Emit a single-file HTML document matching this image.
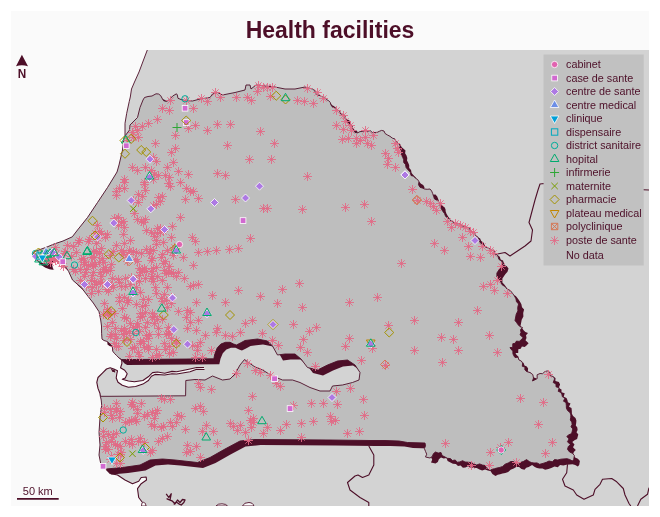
<!DOCTYPE html><html><head><meta charset="utf-8"><title>Health facilities</title>
<style>html,body{margin:0;padding:0;background:#fff}svg{display:block;will-change:transform}text{font-family:"Liberation Sans",sans-serif;fill:#4D0F28}</style></head><body>
<svg width="660" height="517" viewBox="0 0 660 517">
<rect x="0" y="0" width="660" height="517" fill="#fff"/>
<rect x="11" y="11" width="638" height="495" fill="#FAFAFA"/>
<defs><clipPath id="mapclip"><rect x="11" y="50" width="638" height="456"/></clipPath></defs>
<g clip-path="url(#mapclip)">
<path d="M147.3 50 L143.5 60 L139 72 L134.5 82 L131.5 89 L130.3 97 L129.2 101.7 L126.7 113.3 L125 123.3 L125 136 L124 137.5 L122.5 150 L119 165 L117 172 L107.5 187.5 L97.5 202.5 L87.5 217.5 L77.5 230 L72.3 236.8 L63 241 L54 244 L47 247 L40 249.5 L34.5 251.5 L32.5 254.5 L33.3 257.3 L36 259.8 L40 262.3 L44 263.8 L47 264.3 L49.3 263.5 L49.5 261.5 L50.5 260 L53.5 260 L57.5 261.2 L61.5 263 L65 266 L68.6 271.4 L72.5 280 L81.7 288 L88.3 296.7 L93.3 303 L99 311.7 L100.7 320 L101.5 326 L101.6 333.3 L102 339.1 L104 340.5 L106.9 341.4 L109 343 L111.8 345.8 L112.5 348 L112.7 351.1 L114.5 353.5 L116.7 355.6 L119 358 L121.7 359.6 L121.9 363.5 L120.5 367.8 L117.5 370.8 L113.8 369 L110.2 367.8 L106.5 369 L102.9 372.6 L98 377.5 L96.8 382.3 L98 388.4 L99.9 393.2 L100.4 396.3 L100.4 396.3 L101.2 400 L101.7 405 L100 417.5 L99 432.5 L100 445 L99 455 L101 465 L106 469 L110 473.5 L117.5 475 L125 480 L132.5 483.7 L138.7 481.2 L141.2 477.5 L146.2 477 L146.5 480 L141.2 483.7 L137.5 488.7 L138.7 497.5 L142.5 502.5 L146 506 L144 520 L660 520 L660 40 L147.5 40 Z" fill="#D3D3D3"/>
<path d="M147.3 50 L143.5 60 L139 72 L134.5 82 L131.5 89 L130.3 97 L129.2 101.7 L126.7 113.3 L125 123.3 L125 136" fill="none" stroke="#4D0F28" stroke-width="0.9" stroke-linejoin="round"/>
<path d="M106 469 L110 473.5 L117.5 475 L125 480 L132.5 483.7 L138.7 481.2 L141.2 477.5 L146.2 477 L146.5 480 L141.2 483.7 L137.5 488.7 L138.7 497.5 L142.5 502.5 L146 506" fill="none" stroke="#4D0F28" stroke-width="1.1" stroke-linejoin="round"/>
<path d="M497.5 254 L505 252.5 L510 256 L517.5 251 L525 246 L531 241 L532.5 230 L529 222.5 L531 215 L535 200 L538 190 L540 184 L544 183.5 L560 186 L600 188 L649 190" fill="none" stroke="#4D0F28" stroke-width="1.1" stroke-linejoin="round"/>
<path d="M368.8 446 L373.8 455 L373.8 465 L368.8 475 L362.5 477.5 L358 475 L355 476 L347.5 482.5 L350 490 L360 497.5 L368.8 502.5 L368.8 506" fill="none" stroke="#4D0F28" stroke-width="1.1" stroke-linejoin="round"/>
<path d="M567.5 464.3 L566.7 472.7 L562.5 479.3 L565 486 L573.3 490 L576.7 495 L584 499.3 L593.3 495 L595 489.3 L600 484.3 L602.5 479.3 L611.7 478.5 L616.7 481.8 L623.3 488.5 L625 495 L629 503.5 L630.8 506" fill="none" stroke="#4D0F28" stroke-width="1.1" stroke-linejoin="round"/>
<path d="M637.5 506 L640.8 499.3 L647.5 494.3 L649 487.7" fill="none" stroke="#4D0F28" stroke-width="1.1" stroke-linejoin="round"/>
<path d="M242.5 506 Q244 502.3 249 502.5 Q253.5 503 253.8 506 Z" fill="#FAFAFA" stroke="#4D0F28" stroke-width="0.9"/>
<path d="M216 506 Q218 503.5 222 503.8 Q226.5 504 227.5 506 Z" fill="#FAFAFA" stroke="#4D0F28" stroke-width="0.9"/>
<path d="M141.5 506 Q141 502.5 143.5 502.3 Q146 502.5 146 506 Z" fill="#FAFAFA" stroke="#4D0F28" stroke-width="0.8"/>
<path d="M166.2 493.8 L168.8 497.5 L171.2 493.8 L170 500 L167 498.8 L172.5 501.2 L175 503.8 L177.5 500 L180 502.5 L182.5 499.5 L185 500 L183.8 502.5 L181.2 505 L178.8 503.8 L176.2 502 L173.8 504.5" fill="none" stroke="#4D0F28" stroke-width="1.3" stroke-linejoin="round"/>
<path d="M125 136 L129.5 130 L130 125 L137.5 117.5 L140 107.5 L143 100 L144.5 97.5 L148 96.5 L152 96 L156 93.8 L158.5 94 L160.6 95.5 L162.5 99 L163.8 100.8 L166.7 101.4 L169.5 99.5 L172.7 96 L176.5 93.8 L177.3 95 L178 98.3 L181 99.5 L185 100.5 L192.5 101 L200 99 L210 97.5 L212.5 94 L217.5 92.5 L222.5 95 L235 92.5 L245 90 L246 85 L250 85 L251 89 L256 85 L265 86 L275 87 L285 89 L295 89 L305 87 L312.5 89 L314.6 90.6 L315.8 93.1 L317.5 95 L320.1 95.6 L322.4 96.9 L325 97.5 L326.3 99.5 L328.7 100.7 L330.3 102.5 L331 105 L332.7 107.3 L335.7 107.9 L337.5 110 L339.7 111 L340.6 113.9 L343.2 114.4 L345 116 L345.1 118.4 L346.7 120.3 L347.5 122.5 L349 124.4 L351.4 125.3 L352.5 127.5 L353.5 130.1 L355 132.5 L357.7 132.8 L360 131.6 L362.6 131.5 L365 130.5 L367.4 131.4 L370.2 130.6 L372.4 132.6 L375 132.5 L377.3 132.3 L379.4 131.3 L381.6 130.4 L384 131 L385.1 133.5 L387.5 135 L390 136.3 L392.3 138.1 L395 139 L396 141.5 L398 143.3 L400 145 L399.6 147.7 L401 150 L401.8 152.4 L401.5 155 L402.7 157.3 L403.7 159.7 L403.7 162.4 L405.5 164.5 L406.1 167.6 L408.2 170 L410.4 172.3 L411 175.5 L413.7 176.2 L415.5 178.2 L417.7 179.6 L419 181.8 L418.5 184.7 L420 187.3 L422.3 188 L424.5 189 L427.2 189.3 L430 189 L431.7 191.1 L432.7 193.6 L433.6 196.3 L434.5 199 L436.9 200.2 L439 201.8 L440 203.8 L440.2 206.1 L441 208.2 L442.6 211 L444.5 213.6 L445.7 216.5 L448.2 218.2 L450.2 220.3 L452.7 221.8 L454.9 223.3 L457.4 223.8 L460 223.6 L461.9 225.8 L464.7 226.4 L467.3 227.3 L469.5 228.1 L470.4 230.6 L472.1 232.2 L474.5 232.7 L475.7 235.6 L478.2 237.3 L479 239.5 L479.6 241.7 L481 243.6 L483.6 244.4 L485.1 246.9 L487.7 247.8 L490 249 L492.2 250.1 L494.3 251.3 L495.1 254.1 L497.5 255 L499 259.5 L501.3 260.8 L503 262.9 L502 266.3 L499.6 269 L496.9 273 L496.9 277 L498.8 278.9 L500.3 281 L502.3 285 L505.1 286.5 L507 289 L510.3 290.5 L512.5 293.3 L514.4 295.9 L515.9 298.7 L516.5 301.7 L518.6 304 L517.7 307.4 L517.9 310.9 L516.2 314.3 L515.5 318 L515 320.5 L516.6 322.6 L518.1 324.7 L519.9 326.6 L522.5 327.5 L520.5 329.8 L521 332.4 L520 334.8 L523.1 337.7 L521 340 L519.2 341.4 L516.4 341.1 L515.2 343.3 L512.8 343.7 L512.7 347.5 L510 347.5 L511.1 349.4 L512.9 351.1 L512.9 353.6 L513.7 355.6 L515 357.5 L518 357.2 L519 360 L521.3 361 L522.6 363 L522.3 366.3 L525 367 L524.8 369.6 L526.5 371.5 L530 372.5 L532.8 374.6 L533.5 378 L532.5 381 L534.5 380 L537.2 378.6 L537.1 374.8 L540 373.5 L542.5 373.7 L544.9 371.6 L547.3 370.9 L550 372.5 L549.9 375.5 L553.4 376.6 L554.6 378.9 L553.2 382.5 L556 384 L556 386.8 L559.2 387.8 L558.2 391.3 L561 392.5 L561.9 394.6 L562.4 396.8 L565 398 L563.5 401.2 L566 402.5 L566.3 405.3 L566.4 408.2 L567.6 410.6 L570 412.5 L570.9 415 L570.7 417.5 L570.3 420 L571.8 422.1 L572.1 424.4 L571 426.8 L572.8 428.9 L572.2 431.3 L571.6 433.6 L569 434.7 L566.8 436.4 L569 438.9 L567.5 441.8 L570.3 444.6 L568.3 446.6 L567.5 449.3 L569.6 452 L572.4 453.3 L574.4 455.5 L573.7 459.6 L572.3 461 L569.7 459.5 L567 458.7 L564 458.9 L560.9 459.2 L557.8 460 L554.6 459.6 L552.3 461.8 L549 461 L546.4 462.3 L543 463.4 L539.6 464.3 L537 462.9 L534 463 L531.5 462.6 L529.3 461.6 L526.6 459.6 L523.2 461.6 L520.7 462.3 L519 464.3 L516 463.5 L513.6 461.6 L510.7 461.5 L508.2 463 L505.1 464.2 L502.7 466.4 L499.9 467.4 L497 468 L494.6 468.7 L492.2 469.2 L490 470.5 L486.9 468.6 L485 465.5 L482.3 465 L479.6 463.9 L476.7 465 L474 464 L471.2 462.5 L468.1 462.2 L465 462 L462.6 460.7 L459.9 461.9 L457.4 462.2 L455.1 460 L452.5 460.5 L450.4 458.6 L447.4 458.3 L445 457 L442.1 455.5 L441 452.5 L438.2 453.1 L435.5 452 L433.4 453.7 L432.3 456.4 L430 458 L425.5 457 L426.7 454.2 L425.5 451.4 L424.4 448.6 L425.5 445.8 L425 443 L407.5 442.5 L399 441 L385 440.5 L370 440.5 L330 440 L255 439.5 L240 441 L225 449 L210 457.5 L197.5 462.5 L175 460 L162.5 459 L150 460 L140 465 L122.5 467.5 L106 469 L101 465 L99 455 L100 445 L99 432.5 L100 417.5 L101.7 405 L101.2 400 L100.4 396.3 L110 396.3 L185.6 395.8 L185.8 380.5 L195 379.5 L205 380 L212.5 376 L222.5 380 L230 379 L235 374 L240 365 L244.5 359.5 L250 363.5 L255 367 L262.5 370 L272.5 376 L282.5 380 L292.5 380 L300 382.5 L310 387.5 L320 391 L330 391 L332.5 386 L342.5 385 L352.5 382.5 L359 380 L360 372.5 L355 365 L347.5 360 L337.5 361 L327.5 365 L317.5 370 L307.5 367.5 L301 359 L295 354 L285 354 L277.5 355 L272.5 346 L267.5 341 L257.5 339 L245 340.5 L240 343.2 L236.4 345 L233.6 344 L230 342.3 L225.5 342.3 L220.9 344 L217.3 347.7 L215 353.2 L213.8 358.8 L121.7 359.6 L119 358 L116.7 355.6 L114.5 353.5 L112.7 351.1 L112.5 348 L111.8 345.8 L109 343 L106.9 341.4 L104 340.5 L102 339.1 L101.6 333.3 L101.5 326 L100.7 320 L99 311.7 L93.3 303 L88.3 296.7 L81.7 288 L72.5 280 L68.6 271.4 L65 266 L61.5 263 L57.5 261.2 L53.5 260 L50.5 260 L49.5 261.5 L49.3 263.5 L47 264.3 L44 263.8 L40 262.3 L36 259.8 L33.3 257.3 L32.5 254.5 L34.5 251.5 L40 249.5 L47 247 L54 244 L63 241 L72.3 236.8 L77.5 230 L87.5 217.5 L97.5 202.5 L107.5 187.5 L117 172 L119 165 L122.5 150 L124 137.5 Z" fill="#4D0F28" transform="translate(5.5,5.5)"/>
<path d="M51.5 262.5 L53 268.5 L58 272 L68 274 L64 264 L57 260.5 Z" fill="#FAFAFA"/>
<path d="M125 136 L129.5 130 L130 125 L137.5 117.5 L140 107.5 L143 100 L144.5 97.5 L148 96.5 L152 96 L156 93.8 L158.5 94 L160.6 95.5 L162.5 99 L163.8 100.8 L166.7 101.4 L169.5 99.5 L172.7 96 L176.5 93.8 L177.3 95 L178 98.3 L181 99.5 L185 100.5 L192.5 101 L200 99 L210 97.5 L212.5 94 L217.5 92.5 L222.5 95 L235 92.5 L245 90 L246 85 L250 85 L251 89 L256 85 L265 86 L275 87 L285 89 L295 89 L305 87 L312.5 89 L314.6 90.6 L315.8 93.1 L317.5 95 L320.1 95.6 L322.4 96.9 L325 97.5 L326.3 99.5 L328.7 100.7 L330.3 102.5 L331 105 L332.7 107.3 L335.7 107.9 L337.5 110 L339.7 111 L340.6 113.9 L343.2 114.4 L345 116 L345.1 118.4 L346.7 120.3 L347.5 122.5 L349 124.4 L351.4 125.3 L352.5 127.5 L353.5 130.1 L355 132.5 L357.7 132.8 L360 131.6 L362.6 131.5 L365 130.5 L367.4 131.4 L370.2 130.6 L372.4 132.6 L375 132.5 L377.3 132.3 L379.4 131.3 L381.6 130.4 L384 131 L385.1 133.5 L387.5 135 L390 136.3 L392.3 138.1 L395 139 L396 141.5 L398 143.3 L400 145 L399.6 147.7 L401 150 L401.8 152.4 L401.5 155 L402.7 157.3 L403.7 159.7 L403.7 162.4 L405.5 164.5 L406.1 167.6 L408.2 170 L410.4 172.3 L411 175.5 L413.7 176.2 L415.5 178.2 L417.7 179.6 L419 181.8 L418.5 184.7 L420 187.3 L422.3 188 L424.5 189 L427.2 189.3 L430 189 L431.7 191.1 L432.7 193.6 L433.6 196.3 L434.5 199 L436.9 200.2 L439 201.8 L440 203.8 L440.2 206.1 L441 208.2 L442.6 211 L444.5 213.6 L445.7 216.5 L448.2 218.2 L450.2 220.3 L452.7 221.8 L454.9 223.3 L457.4 223.8 L460 223.6 L461.9 225.8 L464.7 226.4 L467.3 227.3 L469.5 228.1 L470.4 230.6 L472.1 232.2 L474.5 232.7 L475.7 235.6 L478.2 237.3 L479 239.5 L479.6 241.7 L481 243.6 L483.6 244.4 L485.1 246.9 L487.7 247.8 L490 249 L492.2 250.1 L494.3 251.3 L495.1 254.1 L497.5 255 L499 259.5 L501.3 260.8 L503 262.9 L502 266.3 L499.6 269 L496.9 273 L496.9 277 L498.8 278.9 L500.3 281 L502.3 285 L505.1 286.5 L507 289 L510.3 290.5 L512.5 293.3 L514.4 295.9 L515.9 298.7 L516.5 301.7 L518.6 304 L517.7 307.4 L517.9 310.9 L516.2 314.3 L515.5 318 L515 320.5 L516.6 322.6 L518.1 324.7 L519.9 326.6 L522.5 327.5 L520.5 329.8 L521 332.4 L520 334.8 L523.1 337.7 L521 340 L519.2 341.4 L516.4 341.1 L515.2 343.3 L512.8 343.7 L512.7 347.5 L510 347.5 L511.1 349.4 L512.9 351.1 L512.9 353.6 L513.7 355.6 L515 357.5 L518 357.2 L519 360 L521.3 361 L522.6 363 L522.3 366.3 L525 367 L524.8 369.6 L526.5 371.5 L530 372.5 L532.8 374.6 L533.5 378 L532.5 381 L534.5 380 L537.2 378.6 L537.1 374.8 L540 373.5 L542.5 373.7 L544.9 371.6 L547.3 370.9 L550 372.5 L549.9 375.5 L553.4 376.6 L554.6 378.9 L553.2 382.5 L556 384 L556 386.8 L559.2 387.8 L558.2 391.3 L561 392.5 L561.9 394.6 L562.4 396.8 L565 398 L563.5 401.2 L566 402.5 L566.3 405.3 L566.4 408.2 L567.6 410.6 L570 412.5 L570.9 415 L570.7 417.5 L570.3 420 L571.8 422.1 L572.1 424.4 L571 426.8 L572.8 428.9 L572.2 431.3 L571.6 433.6 L569 434.7 L566.8 436.4 L569 438.9 L567.5 441.8 L570.3 444.6 L568.3 446.6 L567.5 449.3 L569.6 452 L572.4 453.3 L574.4 455.5 L573.7 459.6 L572.3 461 L569.7 459.5 L567 458.7 L564 458.9 L560.9 459.2 L557.8 460 L554.6 459.6 L552.3 461.8 L549 461 L546.4 462.3 L543 463.4 L539.6 464.3 L537 462.9 L534 463 L531.5 462.6 L529.3 461.6 L526.6 459.6 L523.2 461.6 L520.7 462.3 L519 464.3 L516 463.5 L513.6 461.6 L510.7 461.5 L508.2 463 L505.1 464.2 L502.7 466.4 L499.9 467.4 L497 468 L494.6 468.7 L492.2 469.2 L490 470.5 L486.9 468.6 L485 465.5 L482.3 465 L479.6 463.9 L476.7 465 L474 464 L471.2 462.5 L468.1 462.2 L465 462 L462.6 460.7 L459.9 461.9 L457.4 462.2 L455.1 460 L452.5 460.5 L450.4 458.6 L447.4 458.3 L445 457 L442.1 455.5 L441 452.5 L438.2 453.1 L435.5 452 L433.4 453.7 L432.3 456.4 L430 458 L425.5 457 L426.7 454.2 L425.5 451.4 L424.4 448.6 L425.5 445.8 L425 443 L407.5 442.5 L399 441 L385 440.5 L370 440.5 L330 440 L255 439.5 L240 441 L225 449 L210 457.5 L197.5 462.5 L175 460 L162.5 459 L150 460 L140 465 L122.5 467.5 L106 469 L101 465 L99 455 L100 445 L99 432.5 L100 417.5 L101.7 405 L101.2 400 L100.4 396.3 L110 396.3 L185.6 395.8 L185.8 380.5 L195 379.5 L205 380 L212.5 376 L222.5 380 L230 379 L235 374 L240 365 L244.5 359.5 L250 363.5 L255 367 L262.5 370 L272.5 376 L282.5 380 L292.5 380 L300 382.5 L310 387.5 L320 391 L330 391 L332.5 386 L342.5 385 L352.5 382.5 L359 380 L360 372.5 L355 365 L347.5 360 L337.5 361 L327.5 365 L317.5 370 L307.5 367.5 L301 359 L295 354 L285 354 L277.5 355 L272.5 346 L267.5 341 L257.5 339 L245 340.5 L240 343.2 L236.4 345 L233.6 344 L230 342.3 L225.5 342.3 L220.9 344 L217.3 347.7 L215 353.2 L213.8 358.8 L121.7 359.6 L119 358 L116.7 355.6 L114.5 353.5 L112.7 351.1 L112.5 348 L111.8 345.8 L109 343 L106.9 341.4 L104 340.5 L102 339.1 L101.6 333.3 L101.5 326 L100.7 320 L99 311.7 L93.3 303 L88.3 296.7 L81.7 288 L72.5 280 L68.6 271.4 L65 266 L61.5 263 L57.5 261.2 L53.5 260 L50.5 260 L49.5 261.5 L49.3 263.5 L47 264.3 L44 263.8 L40 262.3 L36 259.8 L33.3 257.3 L32.5 254.5 L34.5 251.5 L40 249.5 L47 247 L54 244 L63 241 L72.3 236.8 L77.5 230 L87.5 217.5 L97.5 202.5 L107.5 187.5 L117 172 L119 165 L122.5 150 L124 137.5 Z" fill="#BEBEBE" stroke="#4D0F28" stroke-width="0.9" stroke-linejoin="round"/>
<path d="M120.5 367.8 L124.7 370.2 L127.2 373.8 L125.3 378 L122.3 379.3 L128.4 381 L134.4 381.7 L142.9 380.5 L149 376.2 L152.6 372.6 L157.5 372 L164.7 373.2 L172 371.4 L176.7 371.7 L190 369 L196.7 367.5 L204 367.5 L204.5 369.5 L196.7 369.3 L190 371.7 L176.7 374 L172 373.8 L164.7 375 L155 374.4 L151.4 376.2 L148.4 380.5 L142.9 384.1 L135.6 386.5 L128.4 387.2 L122.3 385.3 L118 382.3 L116.2 378 L116.8 373.8 L117.5 370.8 L116 367.5 L119.5 364.5 Z" fill="#FAFAFA" stroke="none"/>
<path d="M121.7 359.6 L121.9 363.5 L120.5 367.8 L124.7 370.2 L127.2 373.8 L125.3 378 L122.3 379.3 L128.4 381 L134.4 381.7 L142.9 380.5 L149 376.2 L152.6 372.6 L157.5 372 L164.7 373.2 L172 371.4 L176.7 371.7 L190 369 L196.7 367.5 L204 367.5" fill="none" stroke="#4D0F28" stroke-width="1.1" stroke-linejoin="round"/>
<path d="M204.5 369.5 L196.7 369.3 L190 371.7 L176.7 374 L172 373.8 L164.7 375 L155 374.4 L151.4 376.2 L148.4 380.5 L142.9 384.1 L135.6 386.5 L128.4 387.2 L122.3 385.3 L118 382.3 L116.2 378 L116.8 373.8 L117.5 370.8 L113.8 369 L110.2 367.8 L106.5 369 L102.9 372.6 L98 377.5 L96.8 382.3 L98 388.4 L99.9 393.2 L100.4 396.3" fill="none" stroke="#4D0F28" stroke-width="1.1" stroke-linejoin="round"/>
<path d="M111.5 368.8 l1.2 2.2 l1.3 -1 l0.8 2.4" fill="none" stroke="#4D0F28" stroke-width="1.2"/>
<path d="M166 100.5h9M170.5 96v9M167.3 97.3l6.4 6.4M167.3 103.7l6.4 -6.4M182 100.5h9M186.5 96v9M183.3 97.3l6.4 6.4M183.3 103.7l6.4 -6.4M197 98.5h9M201.5 94v9M198.3 95.3l6.4 6.4M198.3 101.7l6.4 -6.4M203 101.5h9M207.5 97v9M204.3 98.3l6.4 6.4M204.3 104.7l6.4 -6.4M211 92.5h9M215.5 88v9M212.3 89.3l6.4 6.4M212.3 95.7l6.4 -6.4M216 97.5h9M220.5 93v9M217.3 94.3l6.4 6.4M217.3 100.7l6.4 -6.4M232 97.5h9M236.5 93v9M233.3 94.3l6.4 6.4M233.3 100.7l6.4 -6.4M243 97.5h9M247.5 93v9M244.3 94.3l6.4 6.4M244.3 100.7l6.4 -6.4M247 100.5h9M251.5 96v9M248.3 97.3l6.4 6.4M248.3 103.7l6.4 -6.4M253 91.5h9M257.5 87v9M254.3 88.3l6.4 6.4M254.3 94.7l6.4 -6.4M254 85.5h9M258.5 81v9M255.3 82.3l6.4 6.4M255.3 88.7l6.4 -6.4M259 87.5h9M263.5 83v9M260.3 84.3l6.4 6.4M260.3 90.7l6.4 -6.4M158 108.5h9M162.5 104v9M159.3 105.3l6.4 6.4M159.3 111.7l6.4 -6.4M165 110.5h9M169.5 106v9M166.3 107.3l6.4 6.4M166.3 113.7l6.4 -6.4M189 108.5h9M193.5 104v9M190.3 105.3l6.4 6.4M190.3 111.7l6.4 -6.4M153 119.5h9M157.5 115v9M154.3 116.3l6.4 6.4M154.3 122.7l6.4 -6.4M144 123.5h9M148.5 119v9M145.3 120.3l6.4 6.4M145.3 126.7l6.4 -6.4M138 126.5h9M142.5 122v9M139.3 123.3l6.4 6.4M139.3 129.7l6.4 -6.4M131 126.5h9M135.5 122v9M132.3 123.3l6.4 6.4M132.3 129.7l6.4 -6.4M133 130.5h9M137.5 126v9M134.3 127.3l6.4 6.4M134.3 133.7l6.4 -6.4M128 132.5h9M132.5 128v9M129.3 129.3l6.4 6.4M129.3 135.7l6.4 -6.4M134 137.5h9M138.5 133v9M135.3 134.3l6.4 6.4M135.3 140.7l6.4 -6.4M171 135.5h9M175.5 131v9M172.3 132.3l6.4 6.4M172.3 138.7l6.4 -6.4M184 128.5h9M188.5 124v9M185.3 125.3l6.4 6.4M185.3 131.7l6.4 -6.4M191 125.5h9M195.5 121v9M192.3 122.3l6.4 6.4M192.3 128.7l6.4 -6.4M203 130.5h9M207.5 126v9M204.3 127.3l6.4 6.4M204.3 133.7l6.4 -6.4M213 124.5h9M217.5 120v9M214.3 121.3l6.4 6.4M214.3 127.7l6.4 -6.4M226 124.5h9M230.5 120v9M227.3 121.3l6.4 6.4M227.3 127.7l6.4 -6.4M256 131.5h9M260.5 127v9M257.3 128.3l6.4 6.4M257.3 134.7l6.4 -6.4M151 143.5h9M155.5 139v9M152.3 140.3l6.4 6.4M152.3 146.7l6.4 -6.4M171 148.5h9M175.5 144v9M172.3 145.3l6.4 6.4M172.3 151.7l6.4 -6.4M167 152.5h9M171.5 148v9M168.3 149.3l6.4 6.4M168.3 155.7l6.4 -6.4M223 145.5h9M227.5 141v9M224.3 142.3l6.4 6.4M224.3 148.7l6.4 -6.4M245 159.5h9M249.5 155v9M246.3 156.3l6.4 6.4M246.3 162.7l6.4 -6.4M149 157.5h9M153.5 153v9M150.3 154.3l6.4 6.4M150.3 160.7l6.4 -6.4M152 161.5h9M156.5 157v9M153.3 158.3l6.4 6.4M153.3 164.7l6.4 -6.4M128 167.5h9M132.5 163v9M129.3 164.3l6.4 6.4M129.3 170.7l6.4 -6.4M133 170.5h9M137.5 166v9M134.3 167.3l6.4 6.4M134.3 173.7l6.4 -6.4M141 167.5h9M145.5 163v9M142.3 164.3l6.4 6.4M142.3 170.7l6.4 -6.4M147 170.5h9M151.5 166v9M148.3 167.3l6.4 6.4M148.3 173.7l6.4 -6.4M163 167.5h9M167.5 163v9M164.3 164.3l6.4 6.4M164.3 170.7l6.4 -6.4M169 162.5h9M173.5 158v9M170.3 159.3l6.4 6.4M170.3 165.7l6.4 -6.4M174 171.5h9M178.5 167v9M175.3 168.3l6.4 6.4M175.3 174.7l6.4 -6.4M184 174.5h9M188.5 170v9M185.3 171.3l6.4 6.4M185.3 177.7l6.4 -6.4M161 175.5h9M165.5 171v9M162.3 172.3l6.4 6.4M162.3 178.7l6.4 -6.4M213 173.5h9M217.5 169v9M214.3 170.3l6.4 6.4M214.3 176.7l6.4 -6.4M221 175.5h9M225.5 171v9M222.3 172.3l6.4 6.4M222.3 178.7l6.4 -6.4M123 140.5h9M127.5 136v9M124.3 137.3l6.4 6.4M124.3 143.7l6.4 -6.4M129 137.5h9M133.5 133v9M130.3 134.3l6.4 6.4M130.3 140.7l6.4 -6.4M263 87.5h9M267.5 83v9M264.3 84.3l6.4 6.4M264.3 90.7l6.4 -6.4M268 87.5h9M272.5 83v9M269.3 84.3l6.4 6.4M269.3 90.7l6.4 -6.4M266 96.5h9M270.5 92v9M267.3 93.3l6.4 6.4M267.3 99.7l6.4 -6.4M303 88.5h9M307.5 84v9M304.3 85.3l6.4 6.4M304.3 91.7l6.4 -6.4M293 100.5h9M297.5 96v9M294.3 97.3l6.4 6.4M294.3 103.7l6.4 -6.4M300 101.5h9M304.5 97v9M301.3 98.3l6.4 6.4M301.3 104.7l6.4 -6.4M309 103.5h9M313.5 99v9M310.3 100.3l6.4 6.4M310.3 106.7l6.4 -6.4M313 92.5h9M317.5 88v9M314.3 89.3l6.4 6.4M314.3 95.7l6.4 -6.4M319 98.5h9M323.5 94v9M320.3 95.3l6.4 6.4M320.3 101.7l6.4 -6.4M332 110.5h9M336.5 106v9M333.3 107.3l6.4 6.4M333.3 113.7l6.4 -6.4M339 115.5h9M343.5 111v9M340.3 112.3l6.4 6.4M340.3 118.7l6.4 -6.4" fill="none" stroke="#E16A86" stroke-width="0.9"/>
<path d="M341 121.5h9M345.5 117v9M342.3 118.3l6.4 6.4M342.3 124.7l6.4 -6.4M332 125.5h9M336.5 121v9M333.3 122.3l6.4 6.4M333.3 128.7l6.4 -6.4M339 129.5h9M343.5 125v9M340.3 126.3l6.4 6.4M340.3 132.7l6.4 -6.4M347 130.5h9M351.5 126v9M348.3 127.3l6.4 6.4M348.3 133.7l6.4 -6.4M346 125.5h9M350.5 121v9M347.3 122.3l6.4 6.4M347.3 128.7l6.4 -6.4M361 130.5h9M365.5 126v9M362.3 127.3l6.4 6.4M362.3 133.7l6.4 -6.4M369 135.5h9M373.5 131v9M370.3 132.3l6.4 6.4M370.3 138.7l6.4 -6.4M338 139.5h9M342.5 135v9M339.3 136.3l6.4 6.4M339.3 142.7l6.4 -6.4M344 138.5h9M348.5 134v9M345.3 135.3l6.4 6.4M345.3 141.7l6.4 -6.4M352 138.5h9M356.5 134v9M353.3 135.3l6.4 6.4M353.3 141.7l6.4 -6.4M352 143.5h9M356.5 139v9M353.3 140.3l6.4 6.4M353.3 146.7l6.4 -6.4M356 140.5h9M360.5 136v9M357.3 137.3l6.4 6.4M357.3 143.7l6.4 -6.4M363 143.5h9M367.5 139v9M364.3 140.3l6.4 6.4M364.3 146.7l6.4 -6.4M367 145.5h9M371.5 141v9M368.3 142.3l6.4 6.4M368.3 148.7l6.4 -6.4M361 137.5h9M365.5 133v9M362.3 134.3l6.4 6.4M362.3 140.7l6.4 -6.4M270 143.5h9M274.5 139v9M271.3 140.3l6.4 6.4M271.3 146.7l6.4 -6.4M267 159.5h9M271.5 155v9M268.3 156.3l6.4 6.4M268.3 162.7l6.4 -6.4M303 176.5h9M307.5 172v9M304.3 173.3l6.4 6.4M304.3 179.7l6.4 -6.4M381 153.5h9M385.5 149v9M382.3 150.3l6.4 6.4M382.3 156.7l6.4 -6.4M384 158.5h9M388.5 154v9M385.3 155.3l6.4 6.4M385.3 161.7l6.4 -6.4M383 164.5h9M387.5 160v9M384.3 161.3l6.4 6.4M384.3 167.7l6.4 -6.4M391 167.5h9M395.5 163v9M392.3 164.3l6.4 6.4M392.3 170.7l6.4 -6.4M391 143.5h9M395.5 139v9M392.3 140.3l6.4 6.4M392.3 146.7l6.4 -6.4M393 148.5h9M397.5 144v9M394.3 145.3l6.4 6.4M394.3 151.7l6.4 -6.4M394 152.5h9M398.5 148v9M395.3 149.3l6.4 6.4M395.3 155.7l6.4 -6.4M408 189.5h9M412.5 185v9M409.3 186.3l6.4 6.4M409.3 192.7l6.4 -6.4M422 201.5h9M426.5 197v9M423.3 198.3l6.4 6.4M423.3 204.7l6.4 -6.4M426 203.5h9M430.5 199v9M427.3 200.3l6.4 6.4M427.3 206.7l6.4 -6.4M429 206.5h9M433.5 202v9M430.3 203.3l6.4 6.4M430.3 209.7l6.4 -6.4M432 210.5h9M436.5 206v9M433.3 207.3l6.4 6.4M433.3 213.7l6.4 -6.4M436 203.5h9M440.5 199v9M437.3 200.3l6.4 6.4M437.3 206.7l6.4 -6.4M443 221.5h9M447.5 217v9M444.3 218.3l6.4 6.4M444.3 224.7l6.4 -6.4M447 227.5h9M451.5 223v9M448.3 224.3l6.4 6.4M448.3 230.7l6.4 -6.4M451 223.5h9M455.5 219v9M452.3 220.3l6.4 6.4M452.3 226.7l6.4 -6.4M456 225.5h9M460.5 221v9M457.3 222.3l6.4 6.4M457.3 228.7l6.4 -6.4M461 227.5h9M465.5 223v9M462.3 224.3l6.4 6.4M462.3 230.7l6.4 -6.4M466 231.5h9M470.5 227v9M467.3 228.3l6.4 6.4M467.3 234.7l6.4 -6.4M469 232.5h9M473.5 228v9M470.3 229.3l6.4 6.4M470.3 235.7l6.4 -6.4M458 237.5h9M462.5 233v9M459.3 234.3l6.4 6.4M459.3 240.7l6.4 -6.4M464 246.5h9M468.5 242v9M465.3 243.3l6.4 6.4M465.3 249.7l6.4 -6.4M430 243.5h9M434.5 239v9M431.3 240.3l6.4 6.4M431.3 246.7l6.4 -6.4M440 250.5h9M444.5 246v9M441.3 247.3l6.4 6.4M441.3 253.7l6.4 -6.4M466 256.5h9M470.5 252v9M467.3 253.3l6.4 6.4M467.3 259.7l6.4 -6.4M476 257.5h9M480.5 253v9M477.3 254.3l6.4 6.4M477.3 260.7l6.4 -6.4M397 263.5h9M401.5 259v9M398.3 260.3l6.4 6.4M398.3 266.7l6.4 -6.4M478 246.5h9M482.5 242v9M479.3 243.3l6.4 6.4M479.3 249.7l6.4 -6.4M486 250.5h9M490.5 246v9M487.3 247.3l6.4 6.4M487.3 253.7l6.4 -6.4M489 253.5h9M493.5 249v9M490.3 250.3l6.4 6.4M490.3 256.7l6.4 -6.4M497 266.5h9M501.5 262v9M498.3 263.3l6.4 6.4M498.3 269.7l6.4 -6.4M493 280.5h9M497.5 276v9M494.3 277.3l6.4 6.4M494.3 283.7l6.4 -6.4M479 286.5h9M483.5 282v9M480.3 283.3l6.4 6.4M480.3 289.7l6.4 -6.4M486 284.5h9M490.5 280v9M487.3 281.3l6.4 6.4M487.3 287.7l6.4 -6.4M490 290.5h9M494.5 286v9M491.3 287.3l6.4 6.4M491.3 293.7l6.4 -6.4M503 293.5h9M507.5 289v9M504.3 290.3l6.4 6.4M504.3 296.7l6.4 -6.4M473 310.5h9M477.5 306v9M474.3 307.3l6.4 6.4M474.3 313.7l6.4 -6.4M454 322.5h9M458.5 318v9M455.3 319.3l6.4 6.4M455.3 325.7l6.4 -6.4M485 335.5h9M489.5 331v9M486.3 332.3l6.4 6.4M486.3 338.7l6.4 -6.4M437 337.5h9M441.5 333v9M438.3 334.3l6.4 6.4M438.3 340.7l6.4 -6.4M449 339.5h9M453.5 335v9M450.3 336.3l6.4 6.4M450.3 342.7l6.4 -6.4M454 350.5h9M458.5 346v9M455.3 347.3l6.4 6.4M455.3 353.7l6.4 -6.4" fill="none" stroke="#E16A86" stroke-width="0.9"/>
<path d="M493 352.5h9M497.5 348v9M494.3 349.3l6.4 6.4M494.3 355.7l6.4 -6.4M438 362.5h9M442.5 358v9M439.3 359.3l6.4 6.4M439.3 365.7l6.4 -6.4M544 374.5h9M548.5 370v9M545.3 371.3l6.4 6.4M545.3 377.7l6.4 -6.4M516 398.5h9M520.5 394v9M517.3 395.3l6.4 6.4M517.3 401.7l6.4 -6.4M539 402.5h9M543.5 398v9M540.3 399.3l6.4 6.4M540.3 405.7l6.4 -6.4M534 424.5h9M538.5 420v9M535.3 421.3l6.4 6.4M535.3 427.7l6.4 -6.4M548 442.5h9M552.5 438v9M549.3 439.3l6.4 6.4M549.3 445.7l6.4 -6.4M504 442.5h9M508.5 438v9M505.3 439.3l6.4 6.4M505.3 445.7l6.4 -6.4M541 453.5h9M545.5 449v9M542.3 450.3l6.4 6.4M542.3 456.7l6.4 -6.4M486 452.5h9M490.5 448v9M487.3 449.3l6.4 6.4M487.3 455.7l6.4 -6.4M496 447.5h9M500.5 443v9M497.3 444.3l6.4 6.4M497.3 450.7l6.4 -6.4M512 462.5h9M516.5 458v9M513.3 459.3l6.4 6.4M513.3 465.7l6.4 -6.4M485 465.5h9M489.5 461v9M486.3 462.3l6.4 6.4M486.3 468.7l6.4 -6.4M467 465.5h9M471.5 461v9M468.3 462.3l6.4 6.4M468.3 468.7l6.4 -6.4M441 443.5h9M445.5 439v9M442.3 440.3l6.4 6.4M442.3 446.7l6.4 -6.4M263 208.5h9M267.5 204v9M264.3 205.3l6.4 6.4M264.3 211.7l6.4 -6.4M298 209.5h9M302.5 205v9M299.3 206.3l6.4 6.4M299.3 212.7l6.4 -6.4M341 207.5h9M345.5 203v9M342.3 204.3l6.4 6.4M342.3 210.7l6.4 -6.4M360 204.5h9M364.5 200v9M361.3 201.3l6.4 6.4M361.3 207.7l6.4 -6.4M367 221.5h9M371.5 217v9M368.3 218.3l6.4 6.4M368.3 224.7l6.4 -6.4M295 283.5h9M299.5 279v9M296.3 280.3l6.4 6.4M296.3 286.7l6.4 -6.4M278 289.5h9M282.5 285v9M279.3 286.3l6.4 6.4M279.3 292.7l6.4 -6.4M373 297.5h9M377.5 293v9M374.3 294.3l6.4 6.4M374.3 300.7l6.4 -6.4M194 198.5h9M198.5 194v9M195.3 195.3l6.4 6.4M195.3 201.7l6.4 -6.4M231 199.5h9M235.5 195v9M232.3 196.3l6.4 6.4M232.3 202.7l6.4 -6.4M176 182.5h9M180.5 178v9M177.3 179.3l6.4 6.4M177.3 185.7l6.4 -6.4M182 188.5h9M186.5 184v9M183.3 185.3l6.4 6.4M183.3 191.7l6.4 -6.4M158 196.5h9M162.5 192v9M159.3 193.3l6.4 6.4M159.3 199.7l6.4 -6.4M176 217.5h9M180.5 213v9M177.3 214.3l6.4 6.4M177.3 220.7l6.4 -6.4M168 226.5h9M172.5 222v9M169.3 223.3l6.4 6.4M169.3 229.7l6.4 -6.4M153 228.5h9M157.5 224v9M154.3 225.3l6.4 6.4M154.3 231.7l6.4 -6.4M142 230.5h9M146.5 226v9M143.3 227.3l6.4 6.4M143.3 233.7l6.4 -6.4M167 237.5h9M171.5 233v9M168.3 234.3l6.4 6.4M168.3 240.7l6.4 -6.4M191 241.5h9M195.5 237v9M192.3 238.3l6.4 6.4M192.3 244.7l6.4 -6.4M194 252.5h9M198.5 248v9M195.3 249.3l6.4 6.4M195.3 255.7l6.4 -6.4M203 251.5h9M207.5 247v9M204.3 248.3l6.4 6.4M204.3 254.7l6.4 -6.4M212 250.5h9M216.5 246v9M213.3 247.3l6.4 6.4M213.3 253.7l6.4 -6.4M225 249.5h9M229.5 245v9M226.3 246.3l6.4 6.4M226.3 252.7l6.4 -6.4M234 248.5h9M238.5 244v9M235.3 245.3l6.4 6.4M235.3 251.7l6.4 -6.4M246 238.5h9M250.5 234v9M247.3 235.3l6.4 6.4M247.3 241.7l6.4 -6.4M179 257.5h9M183.5 253v9M180.3 254.3l6.4 6.4M180.3 260.7l6.4 -6.4M189 265.5h9M193.5 261v9M190.3 262.3l6.4 6.4M190.3 268.7l6.4 -6.4M194 284.5h9M198.5 280v9M195.3 281.3l6.4 6.4M195.3 287.7l6.4 -6.4M208 295.5h9M212.5 291v9M209.3 292.3l6.4 6.4M209.3 298.7l6.4 -6.4M234 290.5h9M238.5 286v9M235.3 287.3l6.4 6.4M235.3 293.7l6.4 -6.4M256 296.5h9M260.5 292v9M257.3 293.3l6.4 6.4M257.3 299.7l6.4 -6.4M259 208.5h9M263.5 204v9M260.3 205.3l6.4 6.4M260.3 211.7l6.4 -6.4M221 302.5h9M225.5 298v9M222.3 299.3l6.4 6.4M222.3 305.7l6.4 -6.4M192 302.5h9M196.5 298v9M193.3 299.3l6.4 6.4M193.3 305.7l6.4 -6.4M248 320.5h9M252.5 316v9M249.3 317.3l6.4 6.4M249.3 323.7l6.4 -6.4M241 323.5h9M245.5 319v9M242.3 320.3l6.4 6.4M242.3 326.7l6.4 -6.4M228 336.5h9M232.5 332v9M229.3 333.3l6.4 6.4M229.3 339.7l6.4 -6.4M236 332.5h9M240.5 328v9M237.3 329.3l6.4 6.4M237.3 335.7l6.4 -6.4M221 335.5h9M225.5 331v9M222.3 332.3l6.4 6.4M222.3 338.7l6.4 -6.4M213 328.5h9M217.5 324v9M214.3 325.3l6.4 6.4M214.3 331.7l6.4 -6.4M212 332.5h9M216.5 328v9M213.3 329.3l6.4 6.4M213.3 335.7l6.4 -6.4M258 333.5h9M262.5 329v9M259.3 330.3l6.4 6.4M259.3 336.7l6.4 -6.4M243 363.5h9M247.5 359v9M244.3 360.3l6.4 6.4M244.3 366.7l6.4 -6.4M251 370.5h9M255.5 366v9M252.3 367.3l6.4 6.4M252.3 373.7l6.4 -6.4M256 372.5h9M260.5 368v9M257.3 369.3l6.4 6.4M257.3 375.7l6.4 -6.4" fill="none" stroke="#E16A86" stroke-width="0.9"/>
<path d="M232 373.5h9M236.5 369v9M233.3 370.3l6.4 6.4M233.3 376.7l6.4 -6.4M194 383.5h9M198.5 379v9M195.3 380.3l6.4 6.4M195.3 386.7l6.4 -6.4M207 389.5h9M211.5 385v9M208.3 386.3l6.4 6.4M208.3 392.7l6.4 -6.4M248 396.5h9M252.5 392v9M249.3 393.3l6.4 6.4M249.3 399.7l6.4 -6.4M198 357.5h9M202.5 353v9M199.3 354.3l6.4 6.4M199.3 360.7l6.4 -6.4M191 357.5h9M195.5 353v9M192.3 354.3l6.4 6.4M192.3 360.7l6.4 -6.4M207 350.5h9M211.5 346v9M208.3 347.3l6.4 6.4M208.3 353.7l6.4 -6.4M186 312.5h9M190.5 308v9M187.3 309.3l6.4 6.4M187.3 315.7l6.4 -6.4M182 317.5h9M186.5 313v9M183.3 314.3l6.4 6.4M183.3 320.7l6.4 -6.4M174 311.5h9M178.5 307v9M175.3 308.3l6.4 6.4M175.3 314.7l6.4 -6.4M194 320.5h9M198.5 316v9M195.3 317.3l6.4 6.4M195.3 323.7l6.4 -6.4M201 335.5h9M205.5 331v9M202.3 332.3l6.4 6.4M202.3 338.7l6.4 -6.4M196 342.5h9M200.5 338v9M197.3 339.3l6.4 6.4M197.3 345.7l6.4 -6.4M192 330.5h9M196.5 326v9M193.3 327.3l6.4 6.4M193.3 333.7l6.4 -6.4M183 310.5h9M187.5 306v9M184.3 307.3l6.4 6.4M184.3 313.7l6.4 -6.4M273 303.5h9M277.5 299v9M274.3 300.3l6.4 6.4M274.3 306.7l6.4 -6.4M298 307.5h9M302.5 303v9M299.3 304.3l6.4 6.4M299.3 310.7l6.4 -6.4M345 302.5h9M349.5 298v9M346.3 299.3l6.4 6.4M346.3 305.7l6.4 -6.4M410 320.5h9M414.5 316v9M411.3 317.3l6.4 6.4M411.3 323.7l6.4 -6.4M384 325.5h9M388.5 321v9M385.3 322.3l6.4 6.4M385.3 328.7l6.4 -6.4M289 324.5h9M293.5 320v9M290.3 321.3l6.4 6.4M290.3 327.7l6.4 -6.4M312 327.5h9M316.5 323v9M313.3 324.3l6.4 6.4M313.3 330.7l6.4 -6.4M305 331.5h9M309.5 327v9M306.3 328.3l6.4 6.4M306.3 334.7l6.4 -6.4M299 339.5h9M303.5 335v9M300.3 336.3l6.4 6.4M300.3 342.7l6.4 -6.4M296 347.5h9M300.5 343v9M297.3 344.3l6.4 6.4M297.3 350.7l6.4 -6.4M303 352.5h9M307.5 348v9M304.3 349.3l6.4 6.4M304.3 355.7l6.4 -6.4M268 340.5h9M272.5 336v9M269.3 337.3l6.4 6.4M269.3 343.7l6.4 -6.4M274 345.5h9M278.5 341v9M275.3 342.3l6.4 6.4M275.3 348.7l6.4 -6.4M345 338.5h9M349.5 334v9M346.3 335.3l6.4 6.4M346.3 341.7l6.4 -6.4M341 346.5h9M345.5 342v9M342.3 343.3l6.4 6.4M342.3 349.7l6.4 -6.4M410 350.5h9M414.5 346v9M411.3 347.3l6.4 6.4M411.3 353.7l6.4 -6.4M368 348.5h9M372.5 344v9M369.3 345.3l6.4 6.4M369.3 351.7l6.4 -6.4M357 360.5h9M361.5 356v9M358.3 357.3l6.4 6.4M358.3 363.7l6.4 -6.4M311 366.5h9M315.5 362v9M312.3 363.3l6.4 6.4M312.3 369.7l6.4 -6.4M381 365.5h9M385.5 361v9M382.3 362.3l6.4 6.4M382.3 368.7l6.4 -6.4M266 375.5h9M270.5 371v9M267.3 372.3l6.4 6.4M267.3 378.7l6.4 -6.4M272 383.5h9M276.5 379v9M273.3 380.3l6.4 6.4M273.3 386.7l6.4 -6.4M276 386.5h9M280.5 382v9M277.3 383.3l6.4 6.4M277.3 389.7l6.4 -6.4M346 388.5h9M350.5 384v9M347.3 385.3l6.4 6.4M347.3 391.7l6.4 -6.4M332 391.5h9M336.5 387v9M333.3 388.3l6.4 6.4M333.3 394.7l6.4 -6.4M359 399.5h9M363.5 395v9M360.3 396.3l6.4 6.4M360.3 402.7l6.4 -6.4M289 405.5h9M293.5 401v9M290.3 402.3l6.4 6.4M290.3 408.7l6.4 -6.4M307 403.5h9M311.5 399v9M308.3 400.3l6.4 6.4M308.3 406.7l6.4 -6.4M319 403.5h9M323.5 399v9M320.3 400.3l6.4 6.4M320.3 406.7l6.4 -6.4M333 404.5h9M337.5 400v9M334.3 401.3l6.4 6.4M334.3 407.7l6.4 -6.4M360 415.5h9M364.5 411v9M361.3 412.3l6.4 6.4M361.3 418.7l6.4 -6.4M326 416.5h9M330.5 412v9M327.3 413.3l6.4 6.4M327.3 419.7l6.4 -6.4M331 420.5h9M335.5 416v9M332.3 417.3l6.4 6.4M332.3 423.7l6.4 -6.4M327 421.5h9M331.5 417v9M328.3 418.3l6.4 6.4M328.3 424.7l6.4 -6.4M309 421.5h9M313.5 417v9M310.3 418.3l6.4 6.4M310.3 424.7l6.4 -6.4M297 423.5h9M301.5 419v9M298.3 420.3l6.4 6.4M298.3 426.7l6.4 -6.4M282 424.5h9M286.5 420v9M283.3 421.3l6.4 6.4M283.3 427.7l6.4 -6.4M276 430.5h9M280.5 426v9M277.3 427.3l6.4 6.4M277.3 433.7l6.4 -6.4M263 427.5h9M267.5 423v9M264.3 424.3l6.4 6.4M264.3 430.7l6.4 -6.4M297 437.5h9M301.5 433v9M298.3 434.3l6.4 6.4M298.3 440.7l6.4 -6.4M343 433.5h9M347.5 429v9M344.3 430.3l6.4 6.4M344.3 436.7l6.4 -6.4M355 431.5h9M359.5 427v9M356.3 428.3l6.4 6.4M356.3 434.7l6.4 -6.4M244 410.5h9M248.5 406v9M245.3 407.3l6.4 6.4M245.3 413.7l6.4 -6.4M249 418.5h9M253.5 414v9M250.3 415.3l6.4 6.4M250.3 421.7l6.4 -6.4M247 427.5h9M251.5 423v9M248.3 424.3l6.4 6.4M248.3 430.7l6.4 -6.4" fill="none" stroke="#E16A86" stroke-width="0.9"/>
<path d="M259 433.5h9M263.5 429v9M260.3 430.3l6.4 6.4M260.3 436.7l6.4 -6.4M244 440.5h9M248.5 436v9M245.3 437.3l6.4 6.4M245.3 443.7l6.4 -6.4M196 387.5h9M200.5 383v9M197.3 384.3l6.4 6.4M197.3 390.7l6.4 -6.4M191 408.5h9M195.5 404v9M192.3 405.3l6.4 6.4M192.3 411.7l6.4 -6.4M196 406.5h9M200.5 402v9M197.3 403.3l6.4 6.4M197.3 409.7l6.4 -6.4M199 411.5h9M203.5 407v9M200.3 408.3l6.4 6.4M200.3 414.7l6.4 -6.4M173 415.5h9M177.5 411v9M174.3 412.3l6.4 6.4M174.3 418.7l6.4 -6.4M177 416.5h9M181.5 412v9M178.3 413.3l6.4 6.4M178.3 419.7l6.4 -6.4M166 422.5h9M170.5 418v9M167.3 419.3l6.4 6.4M167.3 425.7l6.4 -6.4M168 426.5h9M172.5 422v9M169.3 423.3l6.4 6.4M169.3 429.7l6.4 -6.4M181 429.5h9M185.5 425v9M182.3 426.3l6.4 6.4M182.3 432.7l6.4 -6.4M202 425.5h9M206.5 421v9M203.3 422.3l6.4 6.4M203.3 428.7l6.4 -6.4M198 431.5h9M202.5 427v9M199.3 428.3l6.4 6.4M199.3 434.7l6.4 -6.4M209 431.5h9M213.5 427v9M210.3 428.3l6.4 6.4M210.3 434.7l6.4 -6.4M226 423.5h9M230.5 419v9M227.3 420.3l6.4 6.4M227.3 426.7l6.4 -6.4M229 426.5h9M233.5 422v9M230.3 423.3l6.4 6.4M230.3 429.7l6.4 -6.4M233 430.5h9M237.5 426v9M234.3 427.3l6.4 6.4M234.3 433.7l6.4 -6.4M236 425.5h9M240.5 421v9M237.3 422.3l6.4 6.4M237.3 428.7l6.4 -6.4M241 432.5h9M245.5 428v9M242.3 429.3l6.4 6.4M242.3 435.7l6.4 -6.4M246 420.5h9M250.5 416v9M247.3 417.3l6.4 6.4M247.3 423.7l6.4 -6.4M249 422.5h9M253.5 418v9M250.3 419.3l6.4 6.4M250.3 425.7l6.4 -6.4M163 436.5h9M167.5 432v9M164.3 433.3l6.4 6.4M164.3 439.7l6.4 -6.4M158 438.5h9M162.5 434v9M159.3 435.3l6.4 6.4M159.3 441.7l6.4 -6.4M154 441.5h9M158.5 437v9M155.3 438.3l6.4 6.4M155.3 444.7l6.4 -6.4M183 445.5h9M187.5 441v9M184.3 442.3l6.4 6.4M184.3 448.7l6.4 -6.4M192 446.5h9M196.5 442v9M193.3 443.3l6.4 6.4M193.3 449.7l6.4 -6.4M186 451.5h9M190.5 447v9M187.3 448.3l6.4 6.4M187.3 454.7l6.4 -6.4M182 452.5h9M186.5 448v9M183.3 449.3l6.4 6.4M183.3 455.7l6.4 -6.4M196 457.5h9M200.5 453v9M197.3 454.3l6.4 6.4M197.3 460.7l6.4 -6.4M213 443.5h9M217.5 439v9M214.3 440.3l6.4 6.4M214.3 446.7l6.4 -6.4M148 450.5h9M152.5 446v9M149.3 447.3l6.4 6.4M149.3 453.7l6.4 -6.4M146 452.5h9M150.5 448v9M147.3 449.3l6.4 6.4M147.3 455.7l6.4 -6.4M413 200.5h9M417.5 196v9M414.3 197.3l6.4 6.4M414.3 203.7l6.4 -6.4M115 188.5h9M119.5 184v9M116.3 185.3l6.4 6.4M116.3 191.7l6.4 -6.4M120 188.5h9M124.5 184v9M121.3 185.3l6.4 6.4M121.3 191.7l6.4 -6.4M120 179.5h9M124.5 175v9M121.3 176.3l6.4 6.4M121.3 182.7l6.4 -6.4M140 184.5h9M144.5 180v9M141.3 181.3l6.4 6.4M141.3 187.7l6.4 -6.4M140 182.5h9M144.5 178v9M141.3 179.3l6.4 6.4M141.3 185.7l6.4 -6.4M141 190.5h9M145.5 186v9M142.3 187.3l6.4 6.4M142.3 193.7l6.4 -6.4M120 182.5h9M124.5 178v9M121.3 179.3l6.4 6.4M121.3 185.7l6.4 -6.4M165 177.5h9M169.5 173v9M166.3 174.3l6.4 6.4M166.3 180.7l6.4 -6.4M149 179.5h9M153.5 175v9M150.3 176.3l6.4 6.4M150.3 182.7l6.4 -6.4M164 183.5h9M168.5 179v9M165.3 180.3l6.4 6.4M165.3 186.7l6.4 -6.4M150 174.5h9M154.5 170v9M151.3 171.3l6.4 6.4M151.3 177.7l6.4 -6.4M166 186.5h9M170.5 182v9M167.3 183.3l6.4 6.4M167.3 189.7l6.4 -6.4M154 175.5h9M158.5 171v9M155.3 172.3l6.4 6.4M155.3 178.7l6.4 -6.4M189 191.5h9M193.5 187v9M190.3 188.3l6.4 6.4M190.3 194.7l6.4 -6.4M186 191.5h9M190.5 187v9M187.3 188.3l6.4 6.4M187.3 194.7l6.4 -6.4M110 218.5h9M114.5 214v9M111.3 215.3l6.4 6.4M111.3 221.7l6.4 -6.4M112 195.5h9M116.5 191v9M113.3 192.3l6.4 6.4M113.3 198.7l6.4 -6.4M114 217.5h9M118.5 213v9M115.3 214.3l6.4 6.4M115.3 220.7l6.4 -6.4M112 191.5h9M116.5 187v9M113.3 188.3l6.4 6.4M113.3 194.7l6.4 -6.4M130 213.5h9M134.5 209v9M131.3 210.3l6.4 6.4M131.3 216.7l6.4 -6.4M129 200.5h9M133.5 196v9M130.3 197.3l6.4 6.4M130.3 203.7l6.4 -6.4M138 196.5h9M142.5 192v9M139.3 193.3l6.4 6.4M139.3 199.7l6.4 -6.4M134 202.5h9M138.5 198v9M135.3 199.3l6.4 6.4M135.3 205.7l6.4 -6.4M134 194.5h9M138.5 190v9M135.3 191.3l6.4 6.4M135.3 197.7l6.4 -6.4M133 219.5h9M137.5 215v9M134.3 216.3l6.4 6.4M134.3 222.7l6.4 -6.4M156 201.5h9M160.5 197v9M157.3 198.3l6.4 6.4M157.3 204.7l6.4 -6.4M152 204.5h9M156.5 200v9M153.3 201.3l6.4 6.4M153.3 207.7l6.4 -6.4" fill="none" stroke="#E16A86" stroke-width="0.9"/>
<path d="M149 205.5h9M153.5 201v9M150.3 202.3l6.4 6.4M150.3 208.7l6.4 -6.4M154 197.5h9M158.5 193v9M155.3 194.3l6.4 6.4M155.3 200.7l6.4 -6.4M181 199.5h9M185.5 195v9M182.3 196.3l6.4 6.4M182.3 202.7l6.4 -6.4M74 242.5h9M78.5 238v9M75.3 239.3l6.4 6.4M75.3 245.7l6.4 -6.4M84 241.5h9M88.5 237v9M85.3 238.3l6.4 6.4M85.3 244.7l6.4 -6.4M75 240.5h9M79.5 236v9M76.3 237.3l6.4 6.4M76.3 243.7l6.4 -6.4M85 239.5h9M89.5 235v9M86.3 236.3l6.4 6.4M86.3 242.7l6.4 -6.4M103 234.5h9M107.5 230v9M104.3 231.3l6.4 6.4M104.3 237.7l6.4 -6.4M97 233.5h9M101.5 229v9M98.3 230.3l6.4 6.4M98.3 236.7l6.4 -6.4M94 238.5h9M98.5 234v9M95.3 235.3l6.4 6.4M95.3 241.7l6.4 -6.4M93 225.5h9M97.5 221v9M94.3 222.3l6.4 6.4M94.3 228.7l6.4 -6.4M95 231.5h9M99.5 227v9M96.3 228.3l6.4 6.4M96.3 234.7l6.4 -6.4M94 234.5h9M98.5 230v9M95.3 231.3l6.4 6.4M95.3 237.7l6.4 -6.4M91 233.5h9M95.5 229v9M92.3 230.3l6.4 6.4M92.3 236.7l6.4 -6.4M101 237.5h9M105.5 233v9M102.3 234.3l6.4 6.4M102.3 240.7l6.4 -6.4M92 243.5h9M96.5 239v9M93.3 240.3l6.4 6.4M93.3 246.7l6.4 -6.4M119 234.5h9M123.5 230v9M120.3 231.3l6.4 6.4M120.3 237.7l6.4 -6.4M117 222.5h9M121.5 218v9M118.3 219.3l6.4 6.4M118.3 225.7l6.4 -6.4M139 222.5h9M143.5 218v9M140.3 219.3l6.4 6.4M140.3 225.7l6.4 -6.4M120 243.5h9M124.5 239v9M121.3 240.3l6.4 6.4M121.3 246.7l6.4 -6.4M141 219.5h9M145.5 215v9M142.3 216.3l6.4 6.4M142.3 222.7l6.4 -6.4M119 221.5h9M123.5 217v9M120.3 218.3l6.4 6.4M120.3 224.7l6.4 -6.4M114 225.5h9M118.5 221v9M115.3 222.3l6.4 6.4M115.3 228.7l6.4 -6.4M126 240.5h9M130.5 236v9M127.3 237.3l6.4 6.4M127.3 243.7l6.4 -6.4M120 227.5h9M124.5 223v9M121.3 224.3l6.4 6.4M121.3 230.7l6.4 -6.4M137 221.5h9M141.5 217v9M138.3 218.3l6.4 6.4M138.3 224.7l6.4 -6.4M147 232.5h9M151.5 228v9M148.3 229.3l6.4 6.4M148.3 235.7l6.4 -6.4M159 231.5h9M163.5 227v9M160.3 228.3l6.4 6.4M160.3 234.7l6.4 -6.4M152 240.5h9M156.5 236v9M153.3 237.3l6.4 6.4M153.3 243.7l6.4 -6.4M153 233.5h9M157.5 229v9M154.3 230.3l6.4 6.4M154.3 236.7l6.4 -6.4M152 244.5h9M156.5 240v9M153.3 241.3l6.4 6.4M153.3 247.7l6.4 -6.4M156 232.5h9M160.5 228v9M157.3 229.3l6.4 6.4M157.3 235.7l6.4 -6.4M150 236.5h9M154.5 232v9M151.3 233.3l6.4 6.4M151.3 239.7l6.4 -6.4M156 228.5h9M160.5 224v9M157.3 225.3l6.4 6.4M157.3 231.7l6.4 -6.4M159 242.5h9M163.5 238v9M160.3 239.3l6.4 6.4M160.3 245.7l6.4 -6.4M188 237.5h9M192.5 233v9M189.3 234.3l6.4 6.4M189.3 240.7l6.4 -6.4M46 254.5h9M50.5 250v9M47.3 251.3l6.4 6.4M47.3 257.7l6.4 -6.4M51 247.5h9M55.5 243v9M52.3 244.3l6.4 6.4M52.3 250.7l6.4 -6.4M61 251.5h9M65.5 247v9M62.3 248.3l6.4 6.4M62.3 254.7l6.4 -6.4M63 245.5h9M67.5 241v9M64.3 242.3l6.4 6.4M64.3 248.7l6.4 -6.4M52 253.5h9M56.5 249v9M53.3 250.3l6.4 6.4M53.3 256.7l6.4 -6.4M60 253.5h9M64.5 249v9M61.3 250.3l6.4 6.4M61.3 256.7l6.4 -6.4M40 258.5h9M44.5 254v9M41.3 255.3l6.4 6.4M41.3 261.7l6.4 -6.4M80 264.5h9M84.5 260v9M81.3 261.3l6.4 6.4M81.3 267.7l6.4 -6.4M77 259.5h9M81.5 255v9M78.3 256.3l6.4 6.4M78.3 262.7l6.4 -6.4M72 252.5h9M76.5 248v9M73.3 249.3l6.4 6.4M73.3 255.7l6.4 -6.4M67 256.5h9M71.5 252v9M68.3 253.3l6.4 6.4M68.3 259.7l6.4 -6.4M87 257.5h9M91.5 253v9M88.3 254.3l6.4 6.4M88.3 260.7l6.4 -6.4M79 258.5h9M83.5 254v9M80.3 255.3l6.4 6.4M80.3 261.7l6.4 -6.4M69 246.5h9M73.5 242v9M70.3 243.3l6.4 6.4M70.3 249.7l6.4 -6.4M58 258.5h9M62.5 254v9M59.3 255.3l6.4 6.4M59.3 261.7l6.4 -6.4M80 262.5h9M84.5 258v9M81.3 259.3l6.4 6.4M81.3 265.7l6.4 -6.4M90 257.5h9M94.5 253v9M91.3 254.3l6.4 6.4M91.3 260.7l6.4 -6.4M76 269.5h9M80.5 265v9M77.3 266.3l6.4 6.4M77.3 272.7l6.4 -6.4M97 248.5h9M101.5 244v9M98.3 245.3l6.4 6.4M98.3 251.7l6.4 -6.4M95 253.5h9M99.5 249v9M96.3 250.3l6.4 6.4M96.3 256.7l6.4 -6.4M106 255.5h9M110.5 251v9M107.3 252.3l6.4 6.4M107.3 258.7l6.4 -6.4M99 262.5h9M103.5 258v9M100.3 259.3l6.4 6.4M100.3 265.7l6.4 -6.4M112 245.5h9M116.5 241v9M113.3 242.3l6.4 6.4M113.3 248.7l6.4 -6.4M95 262.5h9M99.5 258v9M96.3 259.3l6.4 6.4M96.3 265.7l6.4 -6.4" fill="none" stroke="#E16A86" stroke-width="0.9"/>
<path d="M109 251.5h9M113.5 247v9M110.3 248.3l6.4 6.4M110.3 254.7l6.4 -6.4M98 258.5h9M102.5 254v9M99.3 255.3l6.4 6.4M99.3 261.7l6.4 -6.4M107 264.5h9M111.5 260v9M108.3 261.3l6.4 6.4M108.3 267.7l6.4 -6.4M92 251.5h9M96.5 247v9M93.3 248.3l6.4 6.4M93.3 254.7l6.4 -6.4M89 251.5h9M93.5 247v9M90.3 248.3l6.4 6.4M90.3 254.7l6.4 -6.4M140 268.5h9M144.5 264v9M141.3 265.3l6.4 6.4M141.3 271.7l6.4 -6.4M119 254.5h9M123.5 250v9M120.3 251.3l6.4 6.4M120.3 257.7l6.4 -6.4M125 250.5h9M129.5 246v9M126.3 247.3l6.4 6.4M126.3 253.7l6.4 -6.4M129 251.5h9M133.5 247v9M130.3 248.3l6.4 6.4M130.3 254.7l6.4 -6.4M131 259.5h9M135.5 255v9M132.3 256.3l6.4 6.4M132.3 262.7l6.4 -6.4M124 254.5h9M128.5 250v9M125.3 251.3l6.4 6.4M125.3 257.7l6.4 -6.4M133 261.5h9M137.5 257v9M134.3 258.3l6.4 6.4M134.3 264.7l6.4 -6.4M123 257.5h9M127.5 253v9M124.3 254.3l6.4 6.4M124.3 260.7l6.4 -6.4M117 250.5h9M121.5 246v9M118.3 247.3l6.4 6.4M118.3 253.7l6.4 -6.4M123 261.5h9M127.5 257v9M124.3 258.3l6.4 6.4M124.3 264.7l6.4 -6.4M132 252.5h9M136.5 248v9M133.3 249.3l6.4 6.4M133.3 255.7l6.4 -6.4M119 252.5h9M123.5 248v9M120.3 249.3l6.4 6.4M120.3 255.7l6.4 -6.4M142 271.5h9M146.5 267v9M143.3 268.3l6.4 6.4M143.3 274.7l6.4 -6.4M137 253.5h9M141.5 249v9M138.3 250.3l6.4 6.4M138.3 256.7l6.4 -6.4M157 257.5h9M161.5 253v9M158.3 254.3l6.4 6.4M158.3 260.7l6.4 -6.4M159 263.5h9M163.5 259v9M160.3 260.3l6.4 6.4M160.3 266.7l6.4 -6.4M149 268.5h9M153.5 264v9M150.3 265.3l6.4 6.4M150.3 271.7l6.4 -6.4M149 250.5h9M153.5 246v9M150.3 247.3l6.4 6.4M150.3 253.7l6.4 -6.4M145 253.5h9M149.5 249v9M146.3 250.3l6.4 6.4M146.3 256.7l6.4 -6.4M142 249.5h9M146.5 245v9M143.3 246.3l6.4 6.4M143.3 252.7l6.4 -6.4M161 261.5h9M165.5 257v9M162.3 258.3l6.4 6.4M162.3 264.7l6.4 -6.4M152 267.5h9M156.5 263v9M153.3 264.3l6.4 6.4M153.3 270.7l6.4 -6.4M146 249.5h9M150.5 245v9M147.3 246.3l6.4 6.4M147.3 252.7l6.4 -6.4M148 258.5h9M152.5 254v9M149.3 255.3l6.4 6.4M149.3 261.7l6.4 -6.4M165 266.5h9M169.5 262v9M166.3 263.3l6.4 6.4M166.3 269.7l6.4 -6.4M158 254.5h9M162.5 250v9M159.3 251.3l6.4 6.4M159.3 257.7l6.4 -6.4M147 260.5h9M151.5 256v9M148.3 257.3l6.4 6.4M148.3 263.7l6.4 -6.4M170 247.5h9M174.5 243v9M171.3 244.3l6.4 6.4M171.3 250.7l6.4 -6.4M168 252.5h9M172.5 248v9M169.3 249.3l6.4 6.4M169.3 255.7l6.4 -6.4M163 250.5h9M167.5 246v9M164.3 247.3l6.4 6.4M164.3 253.7l6.4 -6.4M169 255.5h9M173.5 251v9M170.3 252.3l6.4 6.4M170.3 258.7l6.4 -6.4M88 287.5h9M92.5 283v9M89.3 284.3l6.4 6.4M89.3 290.7l6.4 -6.4M76 280.5h9M80.5 276v9M77.3 277.3l6.4 6.4M77.3 283.7l6.4 -6.4M90 281.5h9M94.5 277v9M91.3 278.3l6.4 6.4M91.3 284.7l6.4 -6.4M71 271.5h9M75.5 267v9M72.3 268.3l6.4 6.4M72.3 274.7l6.4 -6.4M96 282.5h9M100.5 278v9M97.3 279.3l6.4 6.4M97.3 285.7l6.4 -6.4M92 284.5h9M96.5 280v9M93.3 281.3l6.4 6.4M93.3 287.7l6.4 -6.4M87 293.5h9M91.5 289v9M88.3 290.3l6.4 6.4M88.3 296.7l6.4 -6.4M69 269.5h9M73.5 265v9M70.3 266.3l6.4 6.4M70.3 272.7l6.4 -6.4M106 270.5h9M110.5 266v9M107.3 267.3l6.4 6.4M107.3 273.7l6.4 -6.4M102 271.5h9M106.5 267v9M103.3 268.3l6.4 6.4M103.3 274.7l6.4 -6.4M107 285.5h9M111.5 281v9M108.3 282.3l6.4 6.4M108.3 288.7l6.4 -6.4M104 291.5h9M108.5 287v9M105.3 288.3l6.4 6.4M105.3 294.7l6.4 -6.4M108 278.5h9M112.5 274v9M109.3 275.3l6.4 6.4M109.3 281.7l6.4 -6.4M114 279.5h9M118.5 275v9M115.3 276.3l6.4 6.4M115.3 282.7l6.4 -6.4M109 287.5h9M113.5 283v9M110.3 284.3l6.4 6.4M110.3 290.7l6.4 -6.4M98 283.5h9M102.5 279v9M99.3 280.3l6.4 6.4M99.3 286.7l6.4 -6.4M102 289.5h9M106.5 285v9M103.3 286.3l6.4 6.4M103.3 292.7l6.4 -6.4M97 276.5h9M101.5 272v9M98.3 273.3l6.4 6.4M98.3 279.7l6.4 -6.4M101 267.5h9M105.5 263v9M102.3 264.3l6.4 6.4M102.3 270.7l6.4 -6.4M99 269.5h9M103.5 265v9M100.3 266.3l6.4 6.4M100.3 272.7l6.4 -6.4M104 284.5h9M108.5 280v9M105.3 281.3l6.4 6.4M105.3 287.7l6.4 -6.4M132 287.5h9M136.5 283v9M133.3 284.3l6.4 6.4M133.3 290.7l6.4 -6.4M127 277.5h9M131.5 273v9M128.3 274.3l6.4 6.4M128.3 280.7l6.4 -6.4M117 286.5h9M121.5 282v9M118.3 283.3l6.4 6.4M118.3 289.7l6.4 -6.4" fill="none" stroke="#E16A86" stroke-width="0.9"/>
<path d="M136 272.5h9M140.5 268v9M137.3 269.3l6.4 6.4M137.3 275.7l6.4 -6.4M135 281.5h9M139.5 277v9M136.3 278.3l6.4 6.4M136.3 284.7l6.4 -6.4M136 292.5h9M140.5 288v9M137.3 289.3l6.4 6.4M137.3 295.7l6.4 -6.4M126 284.5h9M130.5 280v9M127.3 281.3l6.4 6.4M127.3 287.7l6.4 -6.4M135 275.5h9M139.5 271v9M136.3 272.3l6.4 6.4M136.3 278.7l6.4 -6.4M132 280.5h9M136.5 276v9M133.3 277.3l6.4 6.4M133.3 283.7l6.4 -6.4M121 278.5h9M125.5 274v9M122.3 275.3l6.4 6.4M122.3 281.7l6.4 -6.4M121 286.5h9M125.5 282v9M122.3 283.3l6.4 6.4M122.3 289.7l6.4 -6.4M115 282.5h9M119.5 278v9M116.3 279.3l6.4 6.4M116.3 285.7l6.4 -6.4M138 269.5h9M142.5 265v9M139.3 266.3l6.4 6.4M139.3 272.7l6.4 -6.4M135 268.5h9M139.5 264v9M136.3 265.3l6.4 6.4M136.3 271.7l6.4 -6.4M151 287.5h9M155.5 283v9M152.3 284.3l6.4 6.4M152.3 290.7l6.4 -6.4M147 278.5h9M151.5 274v9M148.3 275.3l6.4 6.4M148.3 281.7l6.4 -6.4M164 272.5h9M168.5 268v9M165.3 269.3l6.4 6.4M165.3 275.7l6.4 -6.4M141 278.5h9M145.5 274v9M142.3 275.3l6.4 6.4M142.3 281.7l6.4 -6.4M158 280.5h9M162.5 276v9M159.3 277.3l6.4 6.4M159.3 283.7l6.4 -6.4M160 294.5h9M164.5 290v9M161.3 291.3l6.4 6.4M161.3 297.7l6.4 -6.4M160 270.5h9M164.5 266v9M161.3 267.3l6.4 6.4M161.3 273.7l6.4 -6.4M148 276.5h9M152.5 272v9M149.3 273.3l6.4 6.4M149.3 279.7l6.4 -6.4M162 273.5h9M166.5 269v9M163.3 270.3l6.4 6.4M163.3 276.7l6.4 -6.4M153 276.5h9M157.5 272v9M154.3 273.3l6.4 6.4M154.3 279.7l6.4 -6.4M152 293.5h9M156.5 289v9M153.3 290.3l6.4 6.4M153.3 296.7l6.4 -6.4M147 271.5h9M151.5 267v9M148.3 268.3l6.4 6.4M148.3 274.7l6.4 -6.4M163 287.5h9M167.5 283v9M164.3 284.3l6.4 6.4M164.3 290.7l6.4 -6.4M149 281.5h9M153.5 277v9M150.3 278.3l6.4 6.4M150.3 284.7l6.4 -6.4M189 285.5h9M193.5 281v9M190.3 282.3l6.4 6.4M190.3 288.7l6.4 -6.4M174 272.5h9M178.5 268v9M175.3 269.3l6.4 6.4M175.3 275.7l6.4 -6.4M169 273.5h9M173.5 269v9M170.3 270.3l6.4 6.4M170.3 276.7l6.4 -6.4M172 276.5h9M176.5 272v9M173.3 273.3l6.4 6.4M173.3 279.7l6.4 -6.4M167 272.5h9M171.5 268v9M168.3 269.3l6.4 6.4M168.3 275.7l6.4 -6.4M186 286.5h9M190.5 282v9M187.3 283.3l6.4 6.4M187.3 289.7l6.4 -6.4M180 278.5h9M184.5 274v9M181.3 275.3l6.4 6.4M181.3 281.7l6.4 -6.4M115 301.5h9M119.5 297v9M116.3 298.3l6.4 6.4M116.3 304.7l6.4 -6.4M99 314.5h9M103.5 310v9M100.3 311.3l6.4 6.4M100.3 317.7l6.4 -6.4M103 309.5h9M107.5 305v9M104.3 306.3l6.4 6.4M104.3 312.7l6.4 -6.4M110 313.5h9M114.5 309v9M111.3 310.3l6.4 6.4M111.3 316.7l6.4 -6.4M103 311.5h9M107.5 307v9M104.3 308.3l6.4 6.4M104.3 314.7l6.4 -6.4M120 297.5h9M124.5 293v9M121.3 294.3l6.4 6.4M121.3 300.7l6.4 -6.4M115 297.5h9M119.5 293v9M116.3 294.3l6.4 6.4M116.3 300.7l6.4 -6.4M104 315.5h9M108.5 311v9M105.3 312.3l6.4 6.4M105.3 318.7l6.4 -6.4M100 303.5h9M104.5 299v9M101.3 300.3l6.4 6.4M101.3 306.7l6.4 -6.4M105 311.5h9M109.5 307v9M106.3 308.3l6.4 6.4M106.3 314.7l6.4 -6.4M138 316.5h9M142.5 312v9M139.3 313.3l6.4 6.4M139.3 319.7l6.4 -6.4M139 299.5h9M143.5 295v9M140.3 296.3l6.4 6.4M140.3 302.7l6.4 -6.4M138 306.5h9M142.5 302v9M139.3 303.3l6.4 6.4M139.3 309.7l6.4 -6.4M120 317.5h9M124.5 313v9M121.3 314.3l6.4 6.4M121.3 320.7l6.4 -6.4M124 300.5h9M128.5 296v9M125.3 297.3l6.4 6.4M125.3 303.7l6.4 -6.4M118 308.5h9M122.5 304v9M119.3 305.3l6.4 6.4M119.3 311.7l6.4 -6.4M141 305.5h9M145.5 301v9M142.3 302.3l6.4 6.4M142.3 308.7l6.4 -6.4M132 304.5h9M136.5 300v9M133.3 301.3l6.4 6.4M133.3 307.7l6.4 -6.4M123 302.5h9M127.5 298v9M124.3 299.3l6.4 6.4M124.3 305.7l6.4 -6.4M136 313.5h9M140.5 309v9M137.3 310.3l6.4 6.4M137.3 316.7l6.4 -6.4M122 318.5h9M126.5 314v9M123.3 315.3l6.4 6.4M123.3 321.7l6.4 -6.4M162 300.5h9M166.5 296v9M163.3 297.3l6.4 6.4M163.3 303.7l6.4 -6.4M158 319.5h9M162.5 315v9M159.3 316.3l6.4 6.4M159.3 322.7l6.4 -6.4M141 312.5h9M145.5 308v9M142.3 309.3l6.4 6.4M142.3 315.7l6.4 -6.4M144 299.5h9M148.5 295v9M145.3 296.3l6.4 6.4M145.3 302.7l6.4 -6.4M148 317.5h9M152.5 313v9M149.3 314.3l6.4 6.4M149.3 320.7l6.4 -6.4M158 301.5h9M162.5 297v9M159.3 298.3l6.4 6.4M159.3 304.7l6.4 -6.4M136 317.5h9M140.5 313v9M137.3 314.3l6.4 6.4M137.3 320.7l6.4 -6.4" fill="none" stroke="#E16A86" stroke-width="0.9"/>
<path d="M157 298.5h9M161.5 294v9M158.3 295.3l6.4 6.4M158.3 301.7l6.4 -6.4M154 328.5h9M158.5 324v9M155.3 325.3l6.4 6.4M155.3 331.7l6.4 -6.4M153 319.5h9M157.5 315v9M154.3 316.3l6.4 6.4M154.3 322.7l6.4 -6.4M148 313.5h9M152.5 309v9M149.3 310.3l6.4 6.4M149.3 316.7l6.4 -6.4M167 303.5h9M171.5 299v9M168.3 300.3l6.4 6.4M168.3 306.7l6.4 -6.4M163 307.5h9M167.5 303v9M164.3 304.3l6.4 6.4M164.3 310.7l6.4 -6.4M167 297.5h9M171.5 293v9M168.3 294.3l6.4 6.4M168.3 300.7l6.4 -6.4M112 338.5h9M116.5 334v9M113.3 335.3l6.4 6.4M113.3 341.7l6.4 -6.4M111 328.5h9M115.5 324v9M112.3 325.3l6.4 6.4M112.3 331.7l6.4 -6.4M120 340.5h9M124.5 336v9M121.3 337.3l6.4 6.4M121.3 343.7l6.4 -6.4M106 336.5h9M110.5 332v9M107.3 333.3l6.4 6.4M107.3 339.7l6.4 -6.4M103 326.5h9M107.5 322v9M104.3 323.3l6.4 6.4M104.3 329.7l6.4 -6.4M120 328.5h9M124.5 324v9M121.3 325.3l6.4 6.4M121.3 331.7l6.4 -6.4M117 330.5h9M121.5 326v9M118.3 327.3l6.4 6.4M118.3 333.7l6.4 -6.4M122 333.5h9M126.5 329v9M123.3 330.3l6.4 6.4M123.3 336.7l6.4 -6.4M125 331.5h9M129.5 327v9M126.3 328.3l6.4 6.4M126.3 334.7l6.4 -6.4M111 334.5h9M115.5 330v9M112.3 331.3l6.4 6.4M112.3 337.7l6.4 -6.4M108 322.5h9M112.5 318v9M109.3 319.3l6.4 6.4M109.3 325.7l6.4 -6.4M107 334.5h9M111.5 330v9M108.3 331.3l6.4 6.4M108.3 337.7l6.4 -6.4M119 334.5h9M123.5 330v9M120.3 331.3l6.4 6.4M120.3 337.7l6.4 -6.4M136 341.5h9M140.5 337v9M137.3 338.3l6.4 6.4M137.3 344.7l6.4 -6.4M126 323.5h9M130.5 319v9M127.3 320.3l6.4 6.4M127.3 326.7l6.4 -6.4M144 338.5h9M148.5 334v9M145.3 335.3l6.4 6.4M145.3 341.7l6.4 -6.4M129 327.5h9M133.5 323v9M130.3 324.3l6.4 6.4M130.3 330.7l6.4 -6.4M126 339.5h9M130.5 335v9M127.3 336.3l6.4 6.4M127.3 342.7l6.4 -6.4M135 331.5h9M139.5 327v9M136.3 328.3l6.4 6.4M136.3 334.7l6.4 -6.4M133 323.5h9M137.5 319v9M134.3 320.3l6.4 6.4M134.3 326.7l6.4 -6.4M145 334.5h9M149.5 330v9M146.3 331.3l6.4 6.4M146.3 337.7l6.4 -6.4M139 341.5h9M143.5 337v9M140.3 338.3l6.4 6.4M140.3 344.7l6.4 -6.4M136 343.5h9M140.5 339v9M137.3 340.3l6.4 6.4M137.3 346.7l6.4 -6.4M142 335.5h9M146.5 331v9M143.3 332.3l6.4 6.4M143.3 338.7l6.4 -6.4M133 326.5h9M137.5 322v9M134.3 323.3l6.4 6.4M134.3 329.7l6.4 -6.4M141 327.5h9M145.5 323v9M142.3 324.3l6.4 6.4M142.3 330.7l6.4 -6.4M129 333.5h9M133.5 329v9M130.3 330.3l6.4 6.4M130.3 336.7l6.4 -6.4M154 334.5h9M158.5 330v9M155.3 331.3l6.4 6.4M155.3 337.7l6.4 -6.4M150 323.5h9M154.5 319v9M151.3 320.3l6.4 6.4M151.3 326.7l6.4 -6.4M167 338.5h9M171.5 334v9M168.3 335.3l6.4 6.4M168.3 341.7l6.4 -6.4M160 343.5h9M164.5 339v9M161.3 340.3l6.4 6.4M161.3 346.7l6.4 -6.4M165 331.5h9M169.5 327v9M166.3 328.3l6.4 6.4M166.3 334.7l6.4 -6.4M162 334.5h9M166.5 330v9M163.3 331.3l6.4 6.4M163.3 337.7l6.4 -6.4M164 327.5h9M168.5 323v9M165.3 324.3l6.4 6.4M165.3 330.7l6.4 -6.4M165 346.5h9M169.5 342v9M166.3 343.3l6.4 6.4M166.3 349.7l6.4 -6.4M164 333.5h9M168.5 329v9M165.3 330.3l6.4 6.4M165.3 336.7l6.4 -6.4M143 322.5h9M147.5 318v9M144.3 319.3l6.4 6.4M144.3 325.7l6.4 -6.4M150 316.5h9M154.5 312v9M151.3 313.3l6.4 6.4M151.3 319.7l6.4 -6.4M172 343.5h9M176.5 339v9M173.3 340.3l6.4 6.4M173.3 346.7l6.4 -6.4M183 328.5h9M187.5 324v9M184.3 325.3l6.4 6.4M184.3 331.7l6.4 -6.4M186 322.5h9M190.5 318v9M187.3 319.3l6.4 6.4M187.3 325.7l6.4 -6.4M172 340.5h9M176.5 336v9M173.3 337.3l6.4 6.4M173.3 343.7l6.4 -6.4M112 346.5h9M116.5 342v9M113.3 343.3l6.4 6.4M113.3 349.7l6.4 -6.4M110 343.5h9M114.5 339v9M111.3 340.3l6.4 6.4M111.3 346.7l6.4 -6.4M114 346.5h9M118.5 342v9M115.3 343.3l6.4 6.4M115.3 349.7l6.4 -6.4M128 348.5h9M132.5 344v9M129.3 345.3l6.4 6.4M129.3 351.7l6.4 -6.4M125 356.5h9M129.5 352v9M126.3 353.3l6.4 6.4M126.3 359.7l6.4 -6.4M140 347.5h9M144.5 343v9M141.3 344.3l6.4 6.4M141.3 350.7l6.4 -6.4M134 352.5h9M138.5 348v9M135.3 349.3l6.4 6.4M135.3 355.7l6.4 -6.4M135 356.5h9M139.5 352v9M136.3 353.3l6.4 6.4M136.3 359.7l6.4 -6.4M144 346.5h9M148.5 342v9M145.3 343.3l6.4 6.4M145.3 349.7l6.4 -6.4M144 349.5h9M148.5 345v9M145.3 346.3l6.4 6.4M145.3 352.7l6.4 -6.4M130 347.5h9M134.5 343v9M131.3 344.3l6.4 6.4M131.3 350.7l6.4 -6.4" fill="none" stroke="#E16A86" stroke-width="0.9"/>
<path d="M165 353.5h9M169.5 349v9M166.3 350.3l6.4 6.4M166.3 356.7l6.4 -6.4M148 357.5h9M152.5 353v9M149.3 354.3l6.4 6.4M149.3 360.7l6.4 -6.4M155 355.5h9M159.5 351v9M156.3 352.3l6.4 6.4M156.3 358.7l6.4 -6.4M152 349.5h9M156.5 345v9M153.3 346.3l6.4 6.4M153.3 352.7l6.4 -6.4M169 352.5h9M173.5 348v9M170.3 349.3l6.4 6.4M170.3 355.7l6.4 -6.4M152 355.5h9M156.5 351v9M153.3 352.3l6.4 6.4M153.3 358.7l6.4 -6.4M161 349.5h9M165.5 345v9M162.3 346.3l6.4 6.4M162.3 352.7l6.4 -6.4M193 346.5h9M197.5 342v9M194.3 343.3l6.4 6.4M194.3 349.7l6.4 -6.4M193 350.5h9M197.5 346v9M194.3 347.3l6.4 6.4M194.3 353.7l6.4 -6.4M188 345.5h9M192.5 341v9M189.3 342.3l6.4 6.4M189.3 348.7l6.4 -6.4M80 283.5h9M84.5 279v9M81.3 280.3l6.4 6.4M81.3 286.7l6.4 -6.4M80 276.5h9M84.5 272v9M81.3 273.3l6.4 6.4M81.3 279.7l6.4 -6.4M82 269.5h9M86.5 265v9M83.3 266.3l6.4 6.4M83.3 272.7l6.4 -6.4M89 266.5h9M93.5 262v9M90.3 263.3l6.4 6.4M90.3 269.7l6.4 -6.4M88 275.5h9M92.5 271v9M89.3 272.3l6.4 6.4M89.3 278.7l6.4 -6.4M94 291.5h9M98.5 287v9M95.3 288.3l6.4 6.4M95.3 294.7l6.4 -6.4M88 264.5h9M92.5 260v9M89.3 261.3l6.4 6.4M89.3 267.7l6.4 -6.4M81 272.5h9M85.5 268v9M82.3 269.3l6.4 6.4M82.3 275.7l6.4 -6.4M91 264.5h9M95.5 260v9M92.3 261.3l6.4 6.4M92.3 267.7l6.4 -6.4M89 272.5h9M93.5 268v9M90.3 269.3l6.4 6.4M90.3 275.7l6.4 -6.4M87 280.5h9M91.5 276v9M88.3 277.3l6.4 6.4M88.3 283.7l6.4 -6.4M82 286.5h9M86.5 282v9M83.3 283.3l6.4 6.4M83.3 289.7l6.4 -6.4M84 265.5h9M88.5 261v9M85.3 262.3l6.4 6.4M85.3 268.7l6.4 -6.4M96 272.5h9M100.5 268v9M97.3 269.3l6.4 6.4M97.3 275.7l6.4 -6.4M100 408.5h9M104.5 404v9M101.3 405.3l6.4 6.4M101.3 411.7l6.4 -6.4M106 409.5h9M110.5 405v9M107.3 406.3l6.4 6.4M107.3 412.7l6.4 -6.4M100 412.5h9M104.5 408v9M101.3 409.3l6.4 6.4M101.3 415.7l6.4 -6.4M128 402.5h9M132.5 398v9M129.3 399.3l6.4 6.4M129.3 405.7l6.4 -6.4M112 403.5h9M116.5 399v9M113.3 400.3l6.4 6.4M113.3 406.7l6.4 -6.4M133 409.5h9M137.5 405v9M134.3 406.3l6.4 6.4M134.3 412.7l6.4 -6.4M129 406.5h9M133.5 402v9M130.3 403.3l6.4 6.4M130.3 409.7l6.4 -6.4M137 403.5h9M141.5 399v9M138.3 400.3l6.4 6.4M138.3 406.7l6.4 -6.4M127 404.5h9M131.5 400v9M128.3 401.3l6.4 6.4M128.3 407.7l6.4 -6.4M160 399.5h9M164.5 395v9M161.3 396.3l6.4 6.4M161.3 402.7l6.4 -6.4M166 399.5h9M170.5 395v9M167.3 396.3l6.4 6.4M167.3 402.7l6.4 -6.4M157 398.5h9M161.5 394v9M158.3 395.3l6.4 6.4M158.3 401.7l6.4 -6.4M104 434.5h9M108.5 430v9M105.3 431.3l6.4 6.4M105.3 437.7l6.4 -6.4M107 415.5h9M111.5 411v9M108.3 412.3l6.4 6.4M108.3 418.7l6.4 -6.4M109 434.5h9M113.5 430v9M110.3 431.3l6.4 6.4M110.3 437.7l6.4 -6.4M108 437.5h9M112.5 433v9M109.3 434.3l6.4 6.4M109.3 440.7l6.4 -6.4M99 431.5h9M103.5 427v9M100.3 428.3l6.4 6.4M100.3 434.7l6.4 -6.4M108 418.5h9M112.5 414v9M109.3 415.3l6.4 6.4M109.3 421.7l6.4 -6.4M112 433.5h9M116.5 429v9M113.3 430.3l6.4 6.4M113.3 436.7l6.4 -6.4M112 411.5h9M116.5 407v9M113.3 408.3l6.4 6.4M113.3 414.7l6.4 -6.4M131 419.5h9M135.5 415v9M132.3 416.3l6.4 6.4M132.3 422.7l6.4 -6.4M115 417.5h9M119.5 413v9M116.3 414.3l6.4 6.4M116.3 420.7l6.4 -6.4M121 422.5h9M125.5 418v9M122.3 419.3l6.4 6.4M122.3 425.7l6.4 -6.4M125 421.5h9M129.5 417v9M126.3 418.3l6.4 6.4M126.3 424.7l6.4 -6.4M127 420.5h9M131.5 416v9M128.3 417.3l6.4 6.4M128.3 423.7l6.4 -6.4M112 408.5h9M116.5 404v9M113.3 405.3l6.4 6.4M113.3 411.7l6.4 -6.4M133 413.5h9M137.5 409v9M134.3 410.3l6.4 6.4M134.3 416.7l6.4 -6.4M132 421.5h9M136.5 417v9M133.3 418.3l6.4 6.4M133.3 424.7l6.4 -6.4M116 411.5h9M120.5 407v9M117.3 408.3l6.4 6.4M117.3 414.7l6.4 -6.4M157 427.5h9M161.5 423v9M158.3 424.3l6.4 6.4M158.3 430.7l6.4 -6.4M143 414.5h9M147.5 410v9M144.3 411.3l6.4 6.4M144.3 417.7l6.4 -6.4M147 424.5h9M151.5 420v9M148.3 421.3l6.4 6.4M148.3 427.7l6.4 -6.4M151 413.5h9M155.5 409v9M152.3 410.3l6.4 6.4M152.3 416.7l6.4 -6.4M150 418.5h9M154.5 414v9M151.3 415.3l6.4 6.4M151.3 421.7l6.4 -6.4M140 416.5h9M144.5 412v9M141.3 413.3l6.4 6.4M141.3 419.7l6.4 -6.4M150 426.5h9M154.5 422v9M151.3 423.3l6.4 6.4M151.3 429.7l6.4 -6.4" fill="none" stroke="#E16A86" stroke-width="0.9"/>
<path d="M148 412.5h9M152.5 408v9M149.3 409.3l6.4 6.4M149.3 415.7l6.4 -6.4M153 410.5h9M157.5 406v9M154.3 407.3l6.4 6.4M154.3 413.7l6.4 -6.4M159 426.5h9M163.5 422v9M160.3 423.3l6.4 6.4M160.3 429.7l6.4 -6.4M172 422.5h9M176.5 418v9M173.3 419.3l6.4 6.4M173.3 425.7l6.4 -6.4M101 449.5h9M105.5 445v9M102.3 446.3l6.4 6.4M102.3 452.7l6.4 -6.4M107 456.5h9M111.5 452v9M108.3 453.3l6.4 6.4M108.3 459.7l6.4 -6.4M102 442.5h9M106.5 438v9M103.3 439.3l6.4 6.4M103.3 445.7l6.4 -6.4M99 436.5h9M103.5 432v9M100.3 433.3l6.4 6.4M100.3 439.7l6.4 -6.4M107 441.5h9M111.5 437v9M108.3 438.3l6.4 6.4M108.3 444.7l6.4 -6.4M106 459.5h9M110.5 455v9M107.3 456.3l6.4 6.4M107.3 462.7l6.4 -6.4M101 446.5h9M105.5 442v9M102.3 443.3l6.4 6.4M102.3 449.7l6.4 -6.4M104 449.5h9M108.5 445v9M105.3 446.3l6.4 6.4M105.3 452.7l6.4 -6.4M113 445.5h9M117.5 441v9M114.3 442.3l6.4 6.4M114.3 448.7l6.4 -6.4M128 444.5h9M132.5 440v9M129.3 441.3l6.4 6.4M129.3 447.7l6.4 -6.4M121 441.5h9M125.5 437v9M122.3 438.3l6.4 6.4M122.3 444.7l6.4 -6.4M117 452.5h9M121.5 448v9M118.3 449.3l6.4 6.4M118.3 455.7l6.4 -6.4M125 443.5h9M129.5 439v9M126.3 440.3l6.4 6.4M126.3 446.7l6.4 -6.4M116 446.5h9M120.5 442v9M117.3 443.3l6.4 6.4M117.3 449.7l6.4 -6.4M111 444.5h9M115.5 440v9M112.3 441.3l6.4 6.4M112.3 447.7l6.4 -6.4M127 439.5h9M131.5 435v9M128.3 436.3l6.4 6.4M128.3 442.7l6.4 -6.4M114 454.5h9M118.5 450v9M115.3 451.3l6.4 6.4M115.3 457.7l6.4 -6.4M136 438.5h9M140.5 434v9M137.3 435.3l6.4 6.4M137.3 441.7l6.4 -6.4M134 441.5h9M138.5 437v9M135.3 438.3l6.4 6.4M135.3 444.7l6.4 -6.4M140 442.5h9M144.5 438v9M141.3 439.3l6.4 6.4M141.3 445.7l6.4 -6.4M116 463.5h9M120.5 459v9M117.3 460.3l6.4 6.4M117.3 466.7l6.4 -6.4M112 463.5h9M116.5 459v9M113.3 460.3l6.4 6.4M113.3 466.7l6.4 -6.4M116 454.5h9M120.5 450v9M117.3 451.3l6.4 6.4M117.3 457.7l6.4 -6.4M44 258.5h9M48.5 254v9M45.3 255.3l6.4 6.4M45.3 261.7l6.4 -6.4M47 259.5h9M51.5 255v9M48.3 256.3l6.4 6.4M48.3 262.7l6.4 -6.4M49 257.5h9M53.5 253v9M50.3 254.3l6.4 6.4M50.3 260.7l6.4 -6.4M46 262.5h9M50.5 258v9M47.3 259.3l6.4 6.4M47.3 265.7l6.4 -6.4M51 260.5h9M55.5 256v9M52.3 257.3l6.4 6.4M52.3 263.7l6.4 -6.4M53 258.5h9M57.5 254v9M54.3 255.3l6.4 6.4M54.3 261.7l6.4 -6.4M42 260.5h9M46.5 256v9M43.3 257.3l6.4 6.4M43.3 263.7l6.4 -6.4M55 261.5h9M59.5 257v9M56.3 258.3l6.4 6.4M56.3 264.7l6.4 -6.4M57 263.5h9M61.5 259v9M58.3 260.3l6.4 6.4M58.3 266.7l6.4 -6.4M59 266.5h9M63.5 262v9M60.3 263.3l6.4 6.4M60.3 269.7l6.4 -6.4M48 256.5h9M52.5 252v9M49.3 253.3l6.4 6.4M49.3 259.7l6.4 -6.4M56 258.5h9M60.5 254v9M57.3 255.3l6.4 6.4M57.3 261.7l6.4 -6.4" fill="none" stroke="#E16A86" stroke-width="0.9"/>
<g>
<rect x="182.2" y="105.4" width="5.7" height="5.7" fill="#D169D0" stroke="#fff" stroke-width="0.8"/>
<rect x="183.4" y="119.7" width="5.7" height="5.7" fill="#D169D0" stroke="#fff" stroke-width="0.8"/>
<path d="M186.2 116 L190.8 120.5 L186.2 125 L181.7 120.5 Z" fill="none" stroke="#A39200" stroke-width="1"/>
<circle cx="185" cy="98.8" r="3.2" fill="none" stroke="#00AD9A" stroke-width="1"/>
<path d="M172.5 127.5 h9 M177 123 v9" fill="none" stroke="#2FA636" stroke-width="1"/>
<path d="M124.5 136 L129 140.5 L124.5 145 L120 140.5 Z" fill="none" stroke="#A39200" stroke-width="1"/>
<path d="M131.2 134.2 L135.8 138.8 L131.2 143.3 L126.7 138.8 Z" fill="none" stroke="#A39200" stroke-width="1"/>
<path d="M125.8 135.5 L130.1 143 L121.4 143 Z" fill="none" stroke="#00AB6E" stroke-width="1"/>
<rect x="123.4" y="142.9" width="5.7" height="5.7" fill="#D169D0" stroke="#fff" stroke-width="0.8"/>
<path d="M141.2 145.5 L145.8 150 L141.2 154.5 L136.7 150 Z" fill="none" stroke="#A39200" stroke-width="1"/>
<path d="M146.2 147.5 L150.8 152 L146.2 156.5 L141.7 152 Z" fill="none" stroke="#A39200" stroke-width="1"/>
<path d="M125 149.2 L129.5 153.8 L125 158.3 L120.5 153.8 Z" fill="none" stroke="#A39200" stroke-width="1"/>
<path d="M150 155.2 L154 159.2 L150 163.2 L146 159.2 Z" fill="#AD79E3" stroke="#fff" stroke-width="0.8"/>
<path d="M276.2 91.2 L280.8 95.8 L276.2 100.3 L271.7 95.8 Z" fill="none" stroke="#A39200" stroke-width="1"/>
<path d="M285.5 95 L290 99.5 L285.5 104 L281 99.5 Z" fill="none" stroke="#A39200" stroke-width="1"/>
<path d="M285.5 93.3 L289.8 100.7 L281.2 100.7 Z" fill="none" stroke="#00AB6E" stroke-width="1"/>
<path d="M405 170.5 L409 174.5 L405 178.5 L401 174.5 Z" fill="#AD79E3" stroke="#fff" stroke-width="0.8"/>
<path d="M405 171 L409 175 L405 179 L401 175 Z" fill="#AD79E3" stroke="#fff" stroke-width="0.8"/>
<path d="M475 236.5 L479 240.5 L475 244.5 L471 240.5 Z" fill="#AD79E3" stroke="#fff" stroke-width="0.8"/>
<path d="M417 195.5 L421.5 200 L417 204.5 L412.5 200 Z" fill="none" stroke="#D57754" stroke-width="1"/>
<path d="M501.2 445.5 L505.8 450 L501.2 454.5 L496.7 450 Z" fill="none" stroke="#00AB6E" stroke-width="1"/>
<circle cx="501.2" cy="450" r="3.2" fill="none" stroke="#00AD9A" stroke-width="1"/>
<circle cx="501.2" cy="450" r="3.2" fill="#E163B0" stroke="#fff" stroke-width="0.8"/>
<path d="M416.8 195.5 L421.3 200 L416.8 204.5 L412.2 200 Z" fill="none" stroke="#D57754" stroke-width="1"/>
<path d="M149.5 173.5 L153.5 177.5 L149.5 181.5 L145.5 177.5 Z" fill="#AD79E3" stroke="#fff" stroke-width="0.8"/>
<path d="M149.5 171.5 L153.8 179 L145.2 179 Z" fill="none" stroke="#00AB6E" stroke-width="1"/>
<path d="M131.2 196.5 L135.2 200.5 L131.2 204.5 L127.2 200.5 Z" fill="#AD79E3" stroke="#fff" stroke-width="0.8"/>
<path d="M150.8 204.8 L154.8 208.8 L150.8 212.8 L146.8 208.8 Z" fill="#AD79E3" stroke="#fff" stroke-width="0.8"/>
<path d="M113.8 219 L117.8 223 L113.8 227 L109.8 223 Z" fill="#AD79E3" stroke="#fff" stroke-width="0.8"/>
<path d="M164.5 225.5 L168.5 229.5 L164.5 233.5 L160.5 229.5 Z" fill="#AD79E3" stroke="#fff" stroke-width="0.8"/>
<path d="M214.5 198.5 L218.5 202.5 L214.5 206.5 L210.5 202.5 Z" fill="#AD79E3" stroke="#fff" stroke-width="0.8"/>
<path d="M245.5 194 L249.5 198 L245.5 202 L241.5 198 Z" fill="#AD79E3" stroke="#fff" stroke-width="0.8"/>
<path d="M259.5 182.2 L263.5 186.2 L259.5 190.2 L255.5 186.2 Z" fill="#AD79E3" stroke="#fff" stroke-width="0.8"/>
<path d="M133.2 275.2 L137.2 279.2 L133.2 283.2 L129.2 279.2 Z" fill="#AD79E3" stroke="#fff" stroke-width="0.8"/>
<path d="M107 280.5 L111 284.5 L107 288.5 L103 284.5 Z" fill="#AD79E3" stroke="#fff" stroke-width="0.8"/>
<path d="M172.5 293.5 L176.5 297.5 L172.5 301.5 L168.5 297.5 Z" fill="#AD79E3" stroke="#fff" stroke-width="0.8"/>
<rect x="240.2" y="217.7" width="5.7" height="5.7" fill="#D169D0" stroke="#fff" stroke-width="0.8"/>
<path d="M108.8 249.7 L113.3 254.2 L108.8 258.8 L104.2 254.2 Z" fill="none" stroke="#A39200" stroke-width="1"/>
<path d="M118.8 253 L123.3 257.5 L118.8 262 L114.2 257.5 Z" fill="none" stroke="#A39200" stroke-width="1"/>
<path d="M129.2 256.7 L133.8 261.2 L129.2 265.8 L124.7 261.2 Z" fill="none" stroke="#D57754" stroke-width="1"/>
<path d="M129.2 254 L133.6 261.5 L124.9 261.5 Z" fill="#6C8EE6" stroke="#fff" stroke-width="0.8"/>
<path d="M175 244.2 L179.5 248.8 L175 253.3 L170.5 248.8 Z" fill="none" stroke="#A39200" stroke-width="1"/>
<circle cx="179.5" cy="244.5" r="3.2" fill="#E163B0" stroke="#fff" stroke-width="0.8"/>
<path d="M176.2 247.2 L180.2 251.2 L176.2 255.2 L172.2 251.2 Z" fill="#AD79E3" stroke="#fff" stroke-width="0.8"/>
<path d="M176.2 245.5 L180.6 253 L171.9 253 Z" fill="none" stroke="#00AB6E" stroke-width="1"/>
<path d="M133 289 L137 293 L133 297 L129 293 Z" fill="#AD79E3" stroke="#fff" stroke-width="0.8"/>
<path d="M133 287 L137.3 294.5 L128.7 294.5 Z" fill="none" stroke="#00AB6E" stroke-width="1"/>
<path d="M130.1 205.6 l6.4 6.4 M130.1 211.9 l6.4 -6.4" fill="none" stroke="#799D00" stroke-width="1"/>
<path d="M172.5 294 L176.5 298 L172.5 302 L168.5 298 Z" fill="#AD79E3" stroke="#fff" stroke-width="0.8"/>
<path d="M173.8 325.5 L177.8 329.5 L173.8 333.5 L169.8 329.5 Z" fill="#AD79E3" stroke="#fff" stroke-width="0.8"/>
<path d="M187.5 340.2 L191.5 344.2 L187.5 348.2 L183.5 344.2 Z" fill="#AD79E3" stroke="#fff" stroke-width="0.8"/>
<path d="M163.8 310.5 L168.3 315 L163.8 319.5 L159.2 315 Z" fill="none" stroke="#A39200" stroke-width="1"/>
<path d="M161.8 303.8 L166.1 311.2 L157.4 311.2 Z" fill="none" stroke="#00AB6E" stroke-width="1"/>
<path d="M207 309.8 L211 313.8 L207 317.8 L203 313.8 Z" fill="#AD79E3" stroke="#fff" stroke-width="0.8"/>
<path d="M207 308 L211.3 315.5 L202.7 315.5 Z" fill="none" stroke="#00AB6E" stroke-width="1"/>
<path d="M230 310.5 L234.5 315 L230 319.5 L225.5 315 Z" fill="none" stroke="#A39200" stroke-width="1"/>
<path d="M107.5 310.5 L112 315 L107.5 319.5 L103 315 Z" fill="none" stroke="#A39200" stroke-width="1"/>
<path d="M111.2 306.7 L115.8 311.2 L111.2 315.8 L106.7 311.2 Z" fill="none" stroke="#A39200" stroke-width="1"/>
<path d="M127 337.5 L131.5 342 L127 346.5 L122.5 342 Z" fill="none" stroke="#A39200" stroke-width="1"/>
<path d="M176.2 339.2 L180.8 343.8 L176.2 348.3 L171.7 343.8 Z" fill="none" stroke="#A39200" stroke-width="1"/>
<circle cx="135.8" cy="332.5" r="3.2" fill="none" stroke="#00AD9A" stroke-width="1"/>
<path d="M273 319.5 L278 324.5 L273 329.5 L268 324.5 Z" fill="none" stroke="#A39200" stroke-width="1"/>
<path d="M273 320.5 L277 324.5 L273 328.5 L269 324.5 Z" fill="#AD79E3" stroke="#fff" stroke-width="0.8"/>
<path d="M389.2 328 L393.8 332.5 L389.2 337 L384.7 332.5 Z" fill="none" stroke="#A39200" stroke-width="1"/>
<path d="M370.8 347.5 L375.1 340 L366.4 340 Z" fill="none" stroke="#C18500" stroke-width="1"/>
<path d="M370.8 340.2 L374.8 344.2 L370.8 348.2 L366.8 344.2 Z" fill="#AD79E3" stroke="#fff" stroke-width="0.8"/>
<path d="M370.8 338.8 L375.1 346.2 L366.4 346.2 Z" fill="none" stroke="#00AB6E" stroke-width="1"/>
<path d="M385 360 L389.5 364.5 L385 369 L380.5 364.5 Z" fill="none" stroke="#D57754" stroke-width="1"/>
<rect x="271.7" y="375.9" width="5.7" height="5.7" fill="#D169D0" stroke="#fff" stroke-width="0.8"/>
<path d="M332 393.5 L336 397.5 L332 401.5 L328 397.5 Z" fill="#AD79E3" stroke="#fff" stroke-width="0.8"/>
<rect x="287.2" y="405.7" width="5.7" height="5.7" fill="#D169D0" stroke="#fff" stroke-width="0.8"/>
<path d="M103 413 L107.5 417.5 L103 422 L98.5 417.5 Z" fill="none" stroke="#A39200" stroke-width="1"/>
<circle cx="123.2" cy="430" r="3.2" fill="none" stroke="#00AD9A" stroke-width="1"/>
<path d="M206.2 432.5 L210.6 440 L201.9 440 Z" fill="none" stroke="#00AB6E" stroke-width="1"/>
<path d="M145 443 L149.5 447.5 L145 452 L140.5 447.5 Z" fill="none" stroke="#A39200" stroke-width="1"/>
<path d="M143.2 446.5 L147.2 450.5 L143.2 454.5 L139.2 450.5 Z" fill="#AD79E3" stroke="#fff" stroke-width="0.8"/>
<path d="M142.5 445 L146.8 452.5 L138.2 452.5 Z" fill="none" stroke="#00AB6E" stroke-width="1"/>
<path d="M112 464.5 L116.3 457 L107.7 457 Z" fill="#009FD8" stroke="#fff" stroke-width="0.8"/>
<path d="M120 453 L124.5 457.5 L120 462 L115.5 457.5 Z" fill="none" stroke="#A39200" stroke-width="1"/>
<path d="M129.3 450.6 l6.4 6.4 M129.3 456.9 l6.4 -6.4" fill="none" stroke="#799D00" stroke-width="1"/>
<rect x="100.2" y="463.4" width="5.7" height="5.7" fill="#D169D0" stroke="#fff" stroke-width="0.8"/>
<path d="M262 416.3 L266.3 423.7 L257.7 423.7 Z" fill="none" stroke="#00AB6E" stroke-width="1"/>
<path d="M97.5 233 L101.5 237 L97.5 241 L93.5 237 Z" fill="#AD79E3" stroke="#fff" stroke-width="0.8"/>
<path d="M59.2 253 L63.2 257 L59.2 261 L55.2 257 Z" fill="#AD79E3" stroke="#fff" stroke-width="0.8"/>
<path d="M84.5 280.5 L88.5 284.5 L84.5 288.5 L80.5 284.5 Z" fill="#AD79E3" stroke="#fff" stroke-width="0.8"/>
<path d="M87.5 246.3 L91.8 253.7 L83.2 253.7 Z" fill="none" stroke="#00AB6E" stroke-width="1"/>
<path d="M87 247 L91.3 254.5 L82.7 254.5 Z" fill="none" stroke="#00AB6E" stroke-width="1"/>
<path d="M67 251.3 L71.3 258.7 L62.7 258.7 Z" fill="none" stroke="#00AB6E" stroke-width="1"/>
<path d="M92.5 216.2 L97 220.8 L92.5 225.3 L88 220.8 Z" fill="none" stroke="#A39200" stroke-width="1"/>
<circle cx="74.5" cy="265" r="3.2" fill="none" stroke="#00AD9A" stroke-width="1"/>
<path d="M107.5 280.5 L111.5 284.5 L107.5 288.5 L103.5 284.5 Z" fill="#AD79E3" stroke="#fff" stroke-width="0.8"/>
<path d="M133.2 275.2 L137.2 279.2 L133.2 283.2 L129.2 279.2 Z" fill="#AD79E3" stroke="#fff" stroke-width="0.8"/>
<path d="M95 231 L99.5 235.5 L95 240 L90.5 235.5 Z" fill="none" stroke="#A39200" stroke-width="1"/>
<circle cx="35.5" cy="253.5" r="3.2" fill="none" stroke="#00AD9A" stroke-width="1"/>
<path d="M35.8 252.3 L39.8 256.3 L35.8 260.3 L31.8 256.3 Z" fill="#AD79E3" stroke="#fff" stroke-width="0.8"/>
<path d="M38.5 248 L43 252.5 L38.5 257 L34 252.5 Z" fill="none" stroke="#A39200" stroke-width="1"/>
<path d="M39 254.5 L43.3 262 L34.7 262 Z" fill="none" stroke="#00AB6E" stroke-width="1"/>
<rect x="36.8" y="252.8" width="6.4" height="6.4" fill="none" stroke="#00A9BE" stroke-width="1"/>
<path d="M42 250.3 L46.3 257.8 L37.7 257.8 Z" fill="none" stroke="#00AB6E" stroke-width="1"/>
<path d="M43.3 257.3 L47.6 264.8 L39 264.8 Z" fill="none" stroke="#00AB6E" stroke-width="1"/>
<path d="M46 247 L50.3 254.5 L41.7 254.5 Z" fill="#6C8EE6" stroke="#fff" stroke-width="0.8"/>
<path d="M47.5 249.8 L51.8 257.3 L43.2 257.3 Z" fill="none" stroke="#00AB6E" stroke-width="1"/>
<path d="M50 248.8 L54.3 256.3 L45.7 256.3 Z" fill="none" stroke="#00AB6E" stroke-width="1"/>
<path d="M52.5 248.5 L56.5 252.5 L52.5 256.5 L48.5 252.5 Z" fill="#AD79E3" stroke="#fff" stroke-width="0.8"/>
<path d="M54.2 248.2 L58.5 255.7 L49.9 255.7 Z" fill="none" stroke="#00AB6E" stroke-width="1"/>
<path d="M45 253.5 L49.3 261 L40.7 261 Z" fill="none" stroke="#00AB6E" stroke-width="1"/>
<path d="M42.4 262.5 L46.7 255 L38.1 255 Z" fill="#009FD8" stroke="#fff" stroke-width="0.8"/>
<rect x="59.9" y="258.8" width="5.7" height="5.7" fill="#D169D0" stroke="#fff" stroke-width="0.8"/>
</g>
</g>
<rect x="543.5" y="54.5" width="100.2" height="211" fill="#C1C1C1"/>
<circle cx="554.6" cy="64.5" r="3.2" fill="#E163B0" stroke="#fff" stroke-width="0.8"/>
<text x="566" y="68.1" font-size="10.8">cabinet</text>
<rect x="551.8" y="75.2" width="5.7" height="5.7" fill="#D169D0" stroke="#fff" stroke-width="0.8"/>
<text x="566" y="81.6" font-size="10.8">case de sante</text>
<path d="M554.6 87.5 L558.6 91.5 L554.6 95.5 L550.6 91.5 Z" fill="#AD79E3" stroke="#fff" stroke-width="0.8"/>
<text x="566" y="95.1" font-size="10.8">centre de sante</text>
<path d="M554.6 100 L558.9 107.5 L550.3 107.5 Z" fill="#6C8EE6" stroke="#fff" stroke-width="0.8"/>
<text x="566" y="108.6" font-size="10.8">centre medical</text>
<path d="M554.6 123.5 L558.9 116 L550.3 116 Z" fill="#009FD8" stroke="#fff" stroke-width="0.8"/>
<text x="566" y="122.1" font-size="10.8">clinique</text>
<rect x="551.4" y="128.8" width="6.4" height="6.4" fill="none" stroke="#00A9BE" stroke-width="1"/>
<text x="566" y="135.6" font-size="10.8">dispensaire</text>
<circle cx="554.6" cy="145.5" r="3.2" fill="none" stroke="#00AD9A" stroke-width="1"/>
<text x="566" y="149.1" font-size="10.8">district sanitaire</text>
<path d="M554.6 154 L558.9 161.5 L550.3 161.5 Z" fill="none" stroke="#00AB6E" stroke-width="1"/>
<text x="566" y="162.6" font-size="10.8">hopital</text>
<path d="M550.1 172.5 h9 M554.6 168 v9" fill="none" stroke="#2FA636" stroke-width="1"/>
<text x="566" y="176.1" font-size="10.8">infirmerie</text>
<path d="M551.4 182.8 l6.4 6.4 M551.4 189.2 l6.4 -6.4" fill="none" stroke="#799D00" stroke-width="1"/>
<text x="566" y="189.6" font-size="10.8">maternite</text>
<path d="M554.6 195 L559.1 199.5 L554.6 204 L550.1 199.5 Z" fill="none" stroke="#A39200" stroke-width="1"/>
<text x="566" y="203.1" font-size="10.8">pharmacie</text>
<path d="M554.6 218 L558.9 210.5 L550.3 210.5 Z" fill="none" stroke="#C18500" stroke-width="1"/>
<text x="566" y="216.6" font-size="10.8">plateau medical</text>
<path d="M551.4 223.3 h6.4 v6.4 h-6.4 Z l6.4 6.4 M551.4 229.7 l6.4 -6.4" fill="none" stroke="#D57754" stroke-width="1"/>
<text x="566" y="230.1" font-size="10.8">polyclinique</text>
<path d="M550 240.5h9M554.5 236v9M551.3 237.3l6.4 6.4M551.3 243.7l6.4 -6.4" fill="none" stroke="#E16A86" stroke-width="0.85"/>
<text x="566" y="243.6" font-size="10.8">poste de sante</text>
<text x="566" y="258.6" font-size="10.8">No data</text>
<text x="330" y="38" font-size="23" font-weight="bold" text-anchor="middle">Health facilities</text>
<path d="M21.9 54.8 L28 66.3 Q21.9 64 16 66.3 Z" fill="#4D0F28"/>
<text transform="translate(22.1,78.2) scale(0.87,1)" x="0" y="0" font-size="13.5" font-weight="bold" text-anchor="middle">N</text>
<path d="M17 498.9 H58.7" stroke="#4D0F28" stroke-width="1.6" fill="none"/>
<text x="37.8" y="495.2" font-size="11" text-anchor="middle">50 km</text>
</svg></body></html>
